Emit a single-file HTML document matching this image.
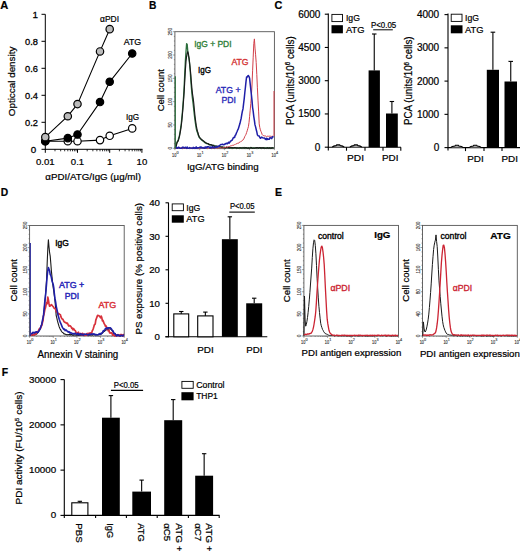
<!DOCTYPE html>
<html><head><meta charset="utf-8"><style>
html,body{margin:0;padding:0;background:#fff;}
svg{display:block;font-family:"Liberation Sans", sans-serif;}
</style></head><body>
<svg width="520" height="551" viewBox="0 0 520 551">
<rect width="520" height="551" fill="#fff"/>
<text x="0.2" y="8.8" font-size="11.6" text-anchor="start" fill="#000" font-weight="bold" textLength="8.0" lengthAdjust="spacingAndGlyphs" stroke="#000" stroke-width="0.22">A</text>
<line x1="45.3" y1="14.3" x2="45.3" y2="149.8" stroke="#000" stroke-width="1"/>
<line x1="41.5" y1="149.3" x2="45.3" y2="149.3" stroke="#000" stroke-width="1"/>
<text x="36.3" y="152.9" font-size="9.8" text-anchor="end" fill="#000" stroke="#000" stroke-width="0.3">0</text>
<line x1="41.5" y1="122.30000000000001" x2="45.3" y2="122.30000000000001" stroke="#000" stroke-width="1"/>
<text x="37.9" y="125.9" font-size="9.8" text-anchor="end" fill="#000" textLength="12.9" lengthAdjust="spacingAndGlyphs" stroke="#000" stroke-width="0.3">0.2</text>
<line x1="41.5" y1="95.30000000000001" x2="45.3" y2="95.30000000000001" stroke="#000" stroke-width="1"/>
<text x="37.9" y="98.9" font-size="9.8" text-anchor="end" fill="#000" textLength="12.9" lengthAdjust="spacingAndGlyphs" stroke="#000" stroke-width="0.3">0.4</text>
<line x1="41.5" y1="68.30000000000001" x2="45.3" y2="68.30000000000001" stroke="#000" stroke-width="1"/>
<text x="37.9" y="71.9" font-size="9.8" text-anchor="end" fill="#000" textLength="12.9" lengthAdjust="spacingAndGlyphs" stroke="#000" stroke-width="0.3">0.6</text>
<line x1="41.5" y1="41.30000000000001" x2="45.3" y2="41.30000000000001" stroke="#000" stroke-width="1"/>
<text x="37.9" y="44.90000000000001" font-size="9.8" text-anchor="end" fill="#000" textLength="12.9" lengthAdjust="spacingAndGlyphs" stroke="#000" stroke-width="0.3">0.8</text>
<line x1="41.5" y1="14.300000000000011" x2="45.3" y2="14.300000000000011" stroke="#000" stroke-width="1"/>
<text x="37.9" y="17.900000000000013" font-size="9.8" text-anchor="end" fill="#000" stroke="#000" stroke-width="0.3">1</text>
<line x1="44.8" y1="149.3" x2="142.5" y2="149.3" stroke="#000" stroke-width="1"/>
<line x1="45.3" y1="149.3" x2="45.3" y2="152.8" stroke="#000" stroke-width="1"/>
<line x1="54.993165860380195" y1="149.3" x2="54.993165860380195" y2="151.3" stroke="#000" stroke-width="0.8"/>
<line x1="60.66330440197313" y1="149.3" x2="60.66330440197313" y2="151.3" stroke="#000" stroke-width="0.8"/>
<line x1="64.68633172076039" y1="149.3" x2="64.68633172076039" y2="151.3" stroke="#000" stroke-width="0.8"/>
<line x1="67.80683413961981" y1="149.3" x2="67.80683413961981" y2="151.3" stroke="#000" stroke-width="0.8"/>
<line x1="70.35647026235333" y1="149.3" x2="70.35647026235333" y2="151.3" stroke="#000" stroke-width="0.8"/>
<line x1="72.51215688845907" y1="149.3" x2="72.51215688845907" y2="151.3" stroke="#000" stroke-width="0.8"/>
<line x1="74.37949758114058" y1="149.3" x2="74.37949758114058" y2="151.3" stroke="#000" stroke-width="0.8"/>
<line x1="76.02660880394626" y1="149.3" x2="76.02660880394626" y2="151.3" stroke="#000" stroke-width="0.8"/>
<line x1="77.5" y1="149.3" x2="77.5" y2="152.8" stroke="#000" stroke-width="1"/>
<line x1="87.19316586038019" y1="149.3" x2="87.19316586038019" y2="151.3" stroke="#000" stroke-width="0.8"/>
<line x1="92.86330440197314" y1="149.3" x2="92.86330440197314" y2="151.3" stroke="#000" stroke-width="0.8"/>
<line x1="96.8863317207604" y1="149.3" x2="96.8863317207604" y2="151.3" stroke="#000" stroke-width="0.8"/>
<line x1="100.00683413961981" y1="149.3" x2="100.00683413961981" y2="151.3" stroke="#000" stroke-width="0.8"/>
<line x1="102.55647026235333" y1="149.3" x2="102.55647026235333" y2="151.3" stroke="#000" stroke-width="0.8"/>
<line x1="104.71215688845908" y1="149.3" x2="104.71215688845908" y2="151.3" stroke="#000" stroke-width="0.8"/>
<line x1="106.57949758114059" y1="149.3" x2="106.57949758114059" y2="151.3" stroke="#000" stroke-width="0.8"/>
<line x1="108.22660880394626" y1="149.3" x2="108.22660880394626" y2="151.3" stroke="#000" stroke-width="0.8"/>
<line x1="109.7" y1="149.3" x2="109.7" y2="152.8" stroke="#000" stroke-width="1"/>
<line x1="119.3931658603802" y1="149.3" x2="119.3931658603802" y2="151.3" stroke="#000" stroke-width="0.8"/>
<line x1="125.06330440197314" y1="149.3" x2="125.06330440197314" y2="151.3" stroke="#000" stroke-width="0.8"/>
<line x1="129.0863317207604" y1="149.3" x2="129.0863317207604" y2="151.3" stroke="#000" stroke-width="0.8"/>
<line x1="132.20683413961982" y1="149.3" x2="132.20683413961982" y2="151.3" stroke="#000" stroke-width="0.8"/>
<line x1="134.75647026235333" y1="149.3" x2="134.75647026235333" y2="151.3" stroke="#000" stroke-width="0.8"/>
<line x1="136.91215688845907" y1="149.3" x2="136.91215688845907" y2="151.3" stroke="#000" stroke-width="0.8"/>
<line x1="138.7794975811406" y1="149.3" x2="138.7794975811406" y2="151.3" stroke="#000" stroke-width="0.8"/>
<line x1="140.42660880394627" y1="149.3" x2="140.42660880394627" y2="151.3" stroke="#000" stroke-width="0.8"/>
<line x1="141.9" y1="149.3" x2="141.9" y2="152.8" stroke="#000" stroke-width="1"/>
<text x="45.3" y="164.8" font-size="9.6" text-anchor="middle" fill="#000" stroke="#000" stroke-width="0.22">0.01</text>
<text x="77.5" y="164.8" font-size="9.6" text-anchor="middle" fill="#000" stroke="#000" stroke-width="0.22">0.1</text>
<text x="109.7" y="164.8" font-size="9.6" text-anchor="middle" fill="#000" stroke="#000" stroke-width="0.22">1</text>
<text x="141.9" y="164.8" font-size="9.6" text-anchor="middle" fill="#000" stroke="#000" stroke-width="0.22">10</text>
<text x="45.3" y="180.1" font-size="9.6" text-anchor="start" fill="#000" textLength="95.6" lengthAdjust="spacingAndGlyphs" stroke="#000" stroke-width="0.22">αPDI/ATG/IgG (µg/ml)</text>
<text x="14.9" y="116.2" font-size="9.8" text-anchor="start" fill="#000" textLength="69.6" lengthAdjust="spacingAndGlyphs" transform="rotate(-90 14.9 116.2)" stroke="#000" stroke-width="0.22">Opticcal density</text>
<polyline points="45.3,141.2 67.8,141.2 77.5,141.2 100.0,140.1 109.7,135.8 132.2,128.4" fill="none" stroke="#000" stroke-width="1.1" stroke-linejoin="round"/>
<polyline points="45.3,141.2 67.8,138.1 77.5,134.5 100.0,102.1 109.7,81.8 132.2,53.5" fill="none" stroke="#000" stroke-width="1.1" stroke-linejoin="round"/>
<polyline points="45.3,137.2 67.8,116.2 77.5,104.1 100.0,51.4 109.7,29.2" fill="none" stroke="#000" stroke-width="1.1" stroke-linejoin="round"/>
<circle cx="45.3" cy="141.20000000000002" r="3.7" fill="#fff" stroke="#000" stroke-width="1.2"/>
<circle cx="67.80683413961981" cy="141.20000000000002" r="3.7" fill="#fff" stroke="#000" stroke-width="1.2"/>
<circle cx="77.5" cy="141.20000000000002" r="3.7" fill="#fff" stroke="#000" stroke-width="1.2"/>
<circle cx="100.00683413961981" cy="140.12" r="3.7" fill="#fff" stroke="#000" stroke-width="1.2"/>
<circle cx="109.7" cy="135.8" r="3.7" fill="#fff" stroke="#000" stroke-width="1.2"/>
<circle cx="132.20683413961982" cy="128.375" r="3.7" fill="#fff" stroke="#000" stroke-width="1.2"/>
<circle cx="45.3" cy="141.20000000000002" r="3.7" fill="#000" stroke="#000" stroke-width="1.2"/>
<circle cx="67.80683413961981" cy="138.095" r="3.7" fill="#000" stroke="#000" stroke-width="1.2"/>
<circle cx="77.5" cy="134.45000000000002" r="3.7" fill="#000" stroke="#000" stroke-width="1.2"/>
<circle cx="100.00683413961981" cy="102.05000000000001" r="3.7" fill="#000" stroke="#000" stroke-width="1.2"/>
<circle cx="109.7" cy="81.80000000000001" r="3.7" fill="#000" stroke="#000" stroke-width="1.2"/>
<circle cx="132.20683413961982" cy="53.45000000000002" r="3.7" fill="#000" stroke="#000" stroke-width="1.2"/>
<circle cx="45.3" cy="137.15" r="3.7" fill="#bbb" stroke="#000" stroke-width="1.2"/>
<circle cx="67.80683413961981" cy="116.22500000000001" r="3.7" fill="#bbb" stroke="#000" stroke-width="1.2"/>
<circle cx="77.5" cy="104.07500000000002" r="3.7" fill="#bbb" stroke="#000" stroke-width="1.2"/>
<circle cx="100.00683413961981" cy="51.42500000000001" r="3.7" fill="#bbb" stroke="#000" stroke-width="1.2"/>
<circle cx="109.7" cy="29.150000000000006" r="3.7" fill="#bbb" stroke="#000" stroke-width="1.2"/>
<text x="100" y="21.8" font-size="8.6" text-anchor="start" fill="#000" textLength="19" lengthAdjust="spacingAndGlyphs" stroke="#000" stroke-width="0.22">αPDI</text>
<text x="123.8" y="44.9" font-size="8.6" text-anchor="start" fill="#000" textLength="17.4" lengthAdjust="spacingAndGlyphs" stroke="#000" stroke-width="0.22">ATG</text>
<text x="125.9" y="120.2" font-size="8.8" text-anchor="start" fill="#000" textLength="13.2" lengthAdjust="spacingAndGlyphs" stroke="#000" stroke-width="0.22">IgG</text>
<text x="149.0" y="8.8" font-size="11.6" text-anchor="start" fill="#000" font-weight="bold" textLength="7.4" lengthAdjust="spacingAndGlyphs" stroke="#000" stroke-width="0.22">B</text>
<rect x="174.9" y="31.7" width="99.49999999999997" height="116.60000000000001" fill="none" stroke="#555" stroke-width="0.9"/>
<line x1="173.1" y1="148.3" x2="174.9" y2="148.3" stroke="#555" stroke-width="0.6"/>
<line x1="173.9" y1="143.63600000000002" x2="174.9" y2="143.63600000000002" stroke="#555" stroke-width="0.6"/>
<line x1="173.9" y1="138.972" x2="174.9" y2="138.972" stroke="#555" stroke-width="0.6"/>
<line x1="173.9" y1="134.30800000000002" x2="174.9" y2="134.30800000000002" stroke="#555" stroke-width="0.6"/>
<line x1="173.9" y1="129.644" x2="174.9" y2="129.644" stroke="#555" stroke-width="0.6"/>
<line x1="173.1" y1="124.98000000000002" x2="174.9" y2="124.98000000000002" stroke="#555" stroke-width="0.6"/>
<line x1="173.9" y1="120.316" x2="174.9" y2="120.316" stroke="#555" stroke-width="0.6"/>
<line x1="173.9" y1="115.65200000000002" x2="174.9" y2="115.65200000000002" stroke="#555" stroke-width="0.6"/>
<line x1="173.9" y1="110.988" x2="174.9" y2="110.988" stroke="#555" stroke-width="0.6"/>
<line x1="173.9" y1="106.32400000000001" x2="174.9" y2="106.32400000000001" stroke="#555" stroke-width="0.6"/>
<line x1="173.1" y1="101.66000000000001" x2="174.9" y2="101.66000000000001" stroke="#555" stroke-width="0.6"/>
<line x1="173.9" y1="96.99600000000001" x2="174.9" y2="96.99600000000001" stroke="#555" stroke-width="0.6"/>
<line x1="173.9" y1="92.33200000000001" x2="174.9" y2="92.33200000000001" stroke="#555" stroke-width="0.6"/>
<line x1="173.9" y1="87.668" x2="174.9" y2="87.668" stroke="#555" stroke-width="0.6"/>
<line x1="173.9" y1="83.004" x2="174.9" y2="83.004" stroke="#555" stroke-width="0.6"/>
<line x1="173.1" y1="78.34" x2="174.9" y2="78.34" stroke="#555" stroke-width="0.6"/>
<line x1="173.9" y1="73.676" x2="174.9" y2="73.676" stroke="#555" stroke-width="0.6"/>
<line x1="173.9" y1="69.01200000000001" x2="174.9" y2="69.01200000000001" stroke="#555" stroke-width="0.6"/>
<line x1="173.9" y1="64.348" x2="174.9" y2="64.348" stroke="#555" stroke-width="0.6"/>
<line x1="173.9" y1="59.68400000000001" x2="174.9" y2="59.68400000000001" stroke="#555" stroke-width="0.6"/>
<line x1="173.1" y1="55.02000000000001" x2="174.9" y2="55.02000000000001" stroke="#555" stroke-width="0.6"/>
<line x1="173.9" y1="50.355999999999995" x2="174.9" y2="50.355999999999995" stroke="#555" stroke-width="0.6"/>
<line x1="173.9" y1="45.69200000000001" x2="174.9" y2="45.69200000000001" stroke="#555" stroke-width="0.6"/>
<line x1="173.9" y1="41.028000000000006" x2="174.9" y2="41.028000000000006" stroke="#555" stroke-width="0.6"/>
<line x1="173.9" y1="36.364000000000004" x2="174.9" y2="36.364000000000004" stroke="#555" stroke-width="0.6"/>
<line x1="173.1" y1="31.700000000000017" x2="174.9" y2="31.700000000000017" stroke="#555" stroke-width="0.6"/>
<text x="172.3" y="148.3" font-size="4.6" text-anchor="middle" fill="#333" transform="rotate(-90 172.3 148.3)" stroke="#333" stroke-width="0.12">0</text>
<text x="172.3" y="124.98000000000002" font-size="4.6" text-anchor="middle" fill="#333" transform="rotate(-90 172.3 124.98000000000002)" stroke="#333" stroke-width="0.12">50</text>
<text x="172.3" y="101.66000000000001" font-size="4.6" text-anchor="middle" fill="#333" transform="rotate(-90 172.3 101.66000000000001)" stroke="#333" stroke-width="0.12">100</text>
<text x="172.3" y="78.34" font-size="4.6" text-anchor="middle" fill="#333" transform="rotate(-90 172.3 78.34)" stroke="#333" stroke-width="0.12">150</text>
<text x="172.3" y="55.02000000000001" font-size="4.6" text-anchor="middle" fill="#333" transform="rotate(-90 172.3 55.02000000000001)" stroke="#333" stroke-width="0.12">200</text>
<text x="172.3" y="31.700000000000017" font-size="4.6" text-anchor="middle" fill="#333" transform="rotate(-90 172.3 31.700000000000017)" stroke="#333" stroke-width="0.12">250</text>
<line x1="174.9" y1="148.3" x2="174.9" y2="150.10000000000002" stroke="#555" stroke-width="0.6"/>
<line x1="182.38812114214153" y1="148.3" x2="182.38812114214153" y2="149.3" stroke="#555" stroke-width="0.5"/>
<line x1="186.7683912111516" y1="148.3" x2="186.7683912111516" y2="149.3" stroke="#555" stroke-width="0.5"/>
<line x1="189.87624228428308" y1="148.3" x2="189.87624228428308" y2="149.3" stroke="#555" stroke-width="0.5"/>
<line x1="192.28687885785848" y1="148.3" x2="192.28687885785848" y2="149.3" stroke="#555" stroke-width="0.5"/>
<line x1="194.25651235329315" y1="148.3" x2="194.25651235329315" y2="149.3" stroke="#555" stroke-width="0.5"/>
<line x1="195.92181374535463" y1="148.3" x2="195.92181374535463" y2="149.3" stroke="#555" stroke-width="0.5"/>
<line x1="197.3643634264246" y1="148.3" x2="197.3643634264246" y2="149.3" stroke="#555" stroke-width="0.5"/>
<line x1="198.6367824223032" y1="148.3" x2="198.6367824223032" y2="149.3" stroke="#555" stroke-width="0.5"/>
<text x="172.1" y="156.5" font-size="5.6" text-anchor="start" fill="#333" textLength="4.3" lengthAdjust="spacingAndGlyphs" stroke="#333" stroke-width="0.15">10</text>
<text x="176.5" y="153.7" font-size="3.8" text-anchor="start" fill="#333" stroke="#333" stroke-width="0.1">0</text>
<line x1="199.775" y1="148.3" x2="199.775" y2="150.10000000000002" stroke="#555" stroke-width="0.6"/>
<line x1="207.26312114214153" y1="148.3" x2="207.26312114214153" y2="149.3" stroke="#555" stroke-width="0.5"/>
<line x1="211.6433912111516" y1="148.3" x2="211.6433912111516" y2="149.3" stroke="#555" stroke-width="0.5"/>
<line x1="214.75124228428308" y1="148.3" x2="214.75124228428308" y2="149.3" stroke="#555" stroke-width="0.5"/>
<line x1="217.16187885785848" y1="148.3" x2="217.16187885785848" y2="149.3" stroke="#555" stroke-width="0.5"/>
<line x1="219.13151235329315" y1="148.3" x2="219.13151235329315" y2="149.3" stroke="#555" stroke-width="0.5"/>
<line x1="220.79681374535463" y1="148.3" x2="220.79681374535463" y2="149.3" stroke="#555" stroke-width="0.5"/>
<line x1="222.2393634264246" y1="148.3" x2="222.2393634264246" y2="149.3" stroke="#555" stroke-width="0.5"/>
<line x1="223.5117824223032" y1="148.3" x2="223.5117824223032" y2="149.3" stroke="#555" stroke-width="0.5"/>
<text x="196.975" y="156.5" font-size="5.6" text-anchor="start" fill="#333" textLength="4.3" lengthAdjust="spacingAndGlyphs" stroke="#333" stroke-width="0.15">10</text>
<text x="201.375" y="153.7" font-size="3.8" text-anchor="start" fill="#333" stroke="#333" stroke-width="0.1">1</text>
<line x1="224.64999999999998" y1="148.3" x2="224.64999999999998" y2="150.10000000000002" stroke="#555" stroke-width="0.6"/>
<line x1="232.1381211421415" y1="148.3" x2="232.1381211421415" y2="149.3" stroke="#555" stroke-width="0.5"/>
<line x1="236.51839121115157" y1="148.3" x2="236.51839121115157" y2="149.3" stroke="#555" stroke-width="0.5"/>
<line x1="239.62624228428302" y1="148.3" x2="239.62624228428302" y2="149.3" stroke="#555" stroke-width="0.5"/>
<line x1="242.03687885785843" y1="148.3" x2="242.03687885785843" y2="149.3" stroke="#555" stroke-width="0.5"/>
<line x1="244.00651235329312" y1="148.3" x2="244.00651235329312" y2="149.3" stroke="#555" stroke-width="0.5"/>
<line x1="245.6718137453546" y1="148.3" x2="245.6718137453546" y2="149.3" stroke="#555" stroke-width="0.5"/>
<line x1="247.11436342642457" y1="148.3" x2="247.11436342642457" y2="149.3" stroke="#555" stroke-width="0.5"/>
<line x1="248.38678242230318" y1="148.3" x2="248.38678242230318" y2="149.3" stroke="#555" stroke-width="0.5"/>
<text x="221.84999999999997" y="156.5" font-size="5.6" text-anchor="start" fill="#333" textLength="4.3" lengthAdjust="spacingAndGlyphs" stroke="#333" stroke-width="0.15">10</text>
<text x="226.24999999999997" y="153.7" font-size="3.8" text-anchor="start" fill="#333" stroke="#333" stroke-width="0.1">2</text>
<line x1="249.52499999999998" y1="148.3" x2="249.52499999999998" y2="150.10000000000002" stroke="#555" stroke-width="0.6"/>
<line x1="257.01312114214153" y1="148.3" x2="257.01312114214153" y2="149.3" stroke="#555" stroke-width="0.5"/>
<line x1="261.3933912111516" y1="148.3" x2="261.3933912111516" y2="149.3" stroke="#555" stroke-width="0.5"/>
<line x1="264.501242284283" y1="148.3" x2="264.501242284283" y2="149.3" stroke="#555" stroke-width="0.5"/>
<line x1="266.9118788578584" y1="148.3" x2="266.9118788578584" y2="149.3" stroke="#555" stroke-width="0.5"/>
<line x1="268.8815123532931" y1="148.3" x2="268.8815123532931" y2="149.3" stroke="#555" stroke-width="0.5"/>
<line x1="270.5468137453546" y1="148.3" x2="270.5468137453546" y2="149.3" stroke="#555" stroke-width="0.5"/>
<line x1="271.9893634264246" y1="148.3" x2="271.9893634264246" y2="149.3" stroke="#555" stroke-width="0.5"/>
<line x1="273.26178242230316" y1="148.3" x2="273.26178242230316" y2="149.3" stroke="#555" stroke-width="0.5"/>
<text x="246.72499999999997" y="156.5" font-size="5.6" text-anchor="start" fill="#333" textLength="4.3" lengthAdjust="spacingAndGlyphs" stroke="#333" stroke-width="0.15">10</text>
<text x="251.12499999999997" y="153.7" font-size="3.8" text-anchor="start" fill="#333" stroke="#333" stroke-width="0.1">3</text>
<line x1="274.4" y1="148.3" x2="274.4" y2="150.10000000000002" stroke="#555" stroke-width="0.6"/>
<text x="271.59999999999997" y="156.5" font-size="5.6" text-anchor="start" fill="#333" textLength="4.3" lengthAdjust="spacingAndGlyphs" stroke="#333" stroke-width="0.15">10</text>
<text x="276.0" y="153.7" font-size="3.8" text-anchor="start" fill="#333" stroke="#333" stroke-width="0.1">4</text>
<text x="163.8" y="111.2" font-size="9.6" text-anchor="start" fill="#000" textLength="42" lengthAdjust="spacingAndGlyphs" transform="rotate(-90 163.8 111.2)" stroke="#000" stroke-width="0.22">Cell count</text>
<text x="186.9" y="169.7" font-size="9.9" text-anchor="start" fill="#000" textLength="71.8" lengthAdjust="spacingAndGlyphs" stroke="#000" stroke-width="0.22">IgG/ATG binding</text>
<polyline points="175.2,148.1 175.8,146.5 176.4,144.0 177.0,142.1 177.6,141.2 178.2,139.7 178.8,137.6 179.4,135.6 180.0,132.0 180.6,128.5 181.2,124.3 181.8,118.1 182.4,112.1 183.0,104.4 183.6,96.4 184.2,85.9 184.8,72.5 185.4,60.6 186.0,51.6 186.6,43.6 187.2,44.4 187.8,51.4 188.4,55.8 189.0,58.9 189.6,64.1 190.2,70.7 190.8,80.1 191.4,87.8 192.0,94.6 192.6,99.6 193.2,104.4 193.8,110.3 194.4,115.4 195.0,120.5 195.6,124.3 196.2,128.4 196.8,130.8 197.4,132.4 198.0,134.4 198.6,135.9 199.2,137.5 199.8,137.9 200.4,138.8 201.0,139.2 201.6,140.1 202.2,140.4 202.8,140.8 203.4,141.4 204.0,141.8 204.6,142.5 205.2,142.6 205.8,143.2 206.4,143.4 207.0,143.8 207.6,143.9 208.2,143.7 208.8,144.5 209.4,144.8 210.0,144.9 210.6,144.9 211.2,145.2 211.8,144.9 212.4,145.6 213.0,145.6 213.6,145.5 214.2,145.5 214.8,146.3 215.4,146.5 216.0,146.0 216.6,146.7 217.2,146.5 217.8,146.4 218.4,146.6 219.0,147.1 219.6,147.2 220.2,146.7 220.8,147.2 221.4,146.9 222.0,147.5 222.6,147.2 223.2,147.7 223.8,147.8 224.4,147.5 225.0,147.9 225.6,147.4 226.2,147.3 226.8,147.7 227.4,147.3 228.0,147.5 228.6,147.7 229.2,147.9 229.8,147.5 230.4,147.4 231.0,148.1 231.6,147.7 232.2,148.2 232.8,148.1 233.4,147.7 234.0,147.8 234.6,147.9 235.2,148.0 235.8,147.9 236.4,147.9 237.0,147.9 237.6,148.2 238.2,147.9 238.8,147.8 239.4,148.0 240.0,147.7 240.6,147.7 241.2,148.3 241.8,147.9 242.4,147.9 243.0,147.5 243.6,147.8 244.2,148.0 244.8,147.5 245.4,148.0 246.0,148.0 246.6,147.6 247.2,148.0 247.8,147.9 248.4,148.1 249.0,147.8 249.6,148.1 250.2,148.1 250.8,147.5 251.4,147.6 252.0,148.1 252.6,148.3 253.2,147.7 253.8,147.9 254.4,148.0 255.0,147.8 255.6,147.8 256.2,147.8 256.8,147.8 257.4,148.0 258.0,147.8 258.6,147.9 259.2,148.2 259.8,147.6 260.4,148.0 261.0,148.2 261.6,147.8 262.2,147.7 262.8,148.2 263.4,147.8 264.0,147.7 264.6,147.9 265.2,148.1 265.8,147.7 266.4,147.8 267.0,147.8 267.6,148.3 268.2,147.9 268.8,148.3 269.4,147.7 270.0,147.9 270.6,148.1 271.2,148.3 271.8,148.0 272.4,147.8 273.0,147.7 273.6,148.0" fill="none" stroke="#2b6e3c" stroke-width="1.3" stroke-linejoin="round"/>
<polyline points="175.2,148.1 175.8,147.1 176.4,145.3 177.0,142.8 177.6,141.7 178.2,141.1 178.8,139.1 179.4,136.9 180.0,133.7 180.6,130.3 181.2,126.2 181.8,121.2 182.4,114.8 183.0,107.8 183.6,99.8 184.2,91.2 184.8,80.1 185.4,69.6 186.0,61.4 186.6,56.3 187.2,53.1 187.8,51.6 188.4,53.8 189.0,57.5 189.6,62.5 190.2,68.6 190.8,74.6 191.4,82.6 192.0,89.4 192.6,94.6 193.2,98.4 193.8,103.5 194.4,110.0 195.0,116.1 195.6,120.8 196.2,125.2 196.8,128.3 197.4,131.2 198.0,132.7 198.6,135.3 199.2,136.5 199.8,137.6 200.4,138.4 201.0,139.1 201.6,139.5 202.2,139.7 202.8,140.7 203.4,140.7 204.0,141.3 204.6,142.0 205.2,142.3 205.8,142.6 206.4,143.3 207.0,143.4 207.6,143.5 208.2,143.7 208.8,144.4 209.4,144.3 210.0,144.8 210.6,144.6 211.2,144.7 211.8,145.1 212.4,145.5 213.0,145.2 213.6,145.9 214.2,146.2 214.8,146.2 215.4,146.4 216.0,145.9 216.6,146.5 217.2,146.8 217.8,146.3 218.4,146.6 219.0,146.7 219.6,147.0 220.2,147.0 220.8,147.1 221.4,147.4 222.0,146.9 222.6,147.0 223.2,147.1 223.8,147.2 224.4,147.2 225.0,147.9 225.6,147.9 226.2,147.3 226.8,147.6 227.4,147.5 228.0,147.6 228.6,147.6 229.2,147.9 229.8,147.9 230.4,147.7 231.0,147.6 231.6,147.7 232.2,147.5 232.8,147.9 233.4,148.0 234.0,147.7 234.6,147.5 235.2,147.6 235.8,147.7 236.4,147.9 237.0,148.1 237.6,147.8 238.2,148.1 238.8,148.0 239.4,147.8 240.0,147.8 240.6,147.9 241.2,148.0 241.8,147.8 242.4,148.0 243.0,147.9 243.6,147.7 244.2,147.9 244.8,148.1 245.4,147.6 246.0,147.8 246.6,147.8 247.2,148.2 247.8,148.3 248.4,147.8 249.0,148.2 249.6,148.2 250.2,147.7 250.8,147.9 251.4,147.6 252.0,148.2 252.6,148.1 253.2,148.2 253.8,148.2 254.4,148.1 255.0,148.1 255.6,148.0 256.2,147.6 256.8,148.0 257.4,147.6 258.0,147.7 258.6,148.2 259.2,147.6 259.8,147.6 260.4,147.6 261.0,148.3 261.6,147.7 262.2,147.6 262.8,148.2 263.4,147.7 264.0,148.2 264.6,148.1 265.2,148.2 265.8,148.3 266.4,148.0 267.0,148.2 267.6,147.6 268.2,148.2 268.8,148.0 269.4,148.2 270.0,147.7 270.6,148.2 271.2,148.3 271.8,147.6 272.4,147.9 273.0,148.0 273.6,148.3" fill="none" stroke="#1a1a1a" stroke-width="1.15" stroke-linejoin="round"/>
<polyline points="175.2,147.8 175.8,147.7 176.4,147.8 177.0,148.1 177.6,148.2 178.2,147.9 178.8,147.9 179.4,147.9 180.0,147.9 180.6,147.9 181.2,147.7 181.8,148.0 182.4,148.3 183.0,147.9 183.6,148.2 184.2,147.7 184.8,148.1 185.4,148.2 186.0,148.1 186.6,148.0 187.2,148.0 187.8,148.1 188.4,148.3 189.0,147.7 189.6,147.7 190.2,148.2 190.8,148.3 191.4,148.0 192.0,147.9 192.6,148.2 193.2,147.7 193.8,147.8 194.4,147.7 195.0,148.0 195.6,147.8 196.2,147.8 196.8,148.1 197.4,148.3 198.0,147.8 198.6,148.1 199.2,147.9 199.8,148.2 200.4,148.0 201.0,147.8 201.6,147.7 202.2,147.6 202.8,147.9 203.4,147.9 204.0,147.7 204.6,147.8 205.2,147.8 205.8,148.2 206.4,147.6 207.0,148.3 207.6,147.9 208.2,148.0 208.8,147.9 209.4,148.2 210.0,148.2 210.6,148.0 211.2,147.9 211.8,148.1 212.4,148.2 213.0,147.8 213.6,148.1 214.2,148.3 214.8,147.9 215.4,147.7 216.0,147.7 216.6,148.0 217.2,148.0 217.8,148.2 218.4,148.1 219.0,147.6 219.6,147.6 220.2,147.6 220.8,147.6 221.4,148.0 222.0,148.1 222.6,148.1 223.2,147.5 223.8,147.9 224.4,147.4 225.0,147.4 225.6,147.6 226.2,146.9 226.8,146.8 227.4,147.2 228.0,146.6 228.6,146.5 229.2,146.6 229.8,146.5 230.4,145.8 231.0,145.8 231.6,145.7 232.2,145.6 232.8,145.1 233.4,145.2 234.0,145.3 234.6,144.6 235.2,144.5 235.8,143.9 236.4,143.8 237.0,143.8 237.6,143.1 238.2,143.4 238.8,143.1 239.4,142.1 240.0,142.4 240.6,141.6 241.2,141.5 241.8,141.1 242.4,140.3 243.0,140.1 243.6,139.1 244.2,138.1 244.8,136.4 245.4,135.5 246.0,134.3 246.6,132.5 247.2,130.8 247.8,128.6 248.4,126.7 249.0,122.6 249.6,116.7 250.2,110.2 250.8,103.5 251.4,95.9 252.0,85.0 252.6,70.8 253.2,57.2 253.8,43.5 254.4,38.9 255.0,48.1 255.6,54.8 256.2,62.6 256.8,74.6 257.4,87.8 258.0,100.1 258.6,111.1 259.2,123.8 259.8,127.6 260.4,129.8 261.0,131.5 261.6,132.9 262.2,134.6 262.8,135.3 263.4,135.5 264.0,136.0 264.6,135.9 265.2,135.9 265.8,136.1 266.4,136.5 267.0,135.9 267.6,136.3 268.2,136.1 268.8,136.5 269.4,136.2 270.0,136.2 270.6,136.2 271.2,136.3 271.8,136.5 272.4,136.2 273.0,136.6 273.6,136.0" fill="none" stroke="#d2404a" stroke-width="1.0" stroke-linejoin="round"/>
<line x1="274.0" y1="91" x2="274.0" y2="136" stroke="#d2404a" stroke-width="1.0"/>
<polyline points="175.2,147.5 175.8,147.2 176.4,147.2 177.0,148.3 177.6,148.3 178.2,147.3 178.8,147.3 179.4,147.7 180.0,148.3 180.6,148.3 181.2,148.3 181.8,148.0 182.4,147.2 183.0,147.7 183.6,147.3 184.2,147.9 184.8,148.0 185.4,147.3 186.0,147.4 186.6,148.3 187.2,147.0 187.8,148.3 188.4,148.3 189.0,148.3 189.6,147.6 190.2,147.9 190.8,148.0 191.4,148.1 192.0,148.3 192.6,148.1 193.2,147.4 193.8,148.3 194.4,147.8 195.0,148.0 195.6,148.2 196.2,146.9 196.8,148.2 197.4,148.0 198.0,147.7 198.6,147.8 199.2,147.6 199.8,147.2 200.4,147.7 201.0,146.8 201.6,147.7 202.2,147.9 202.8,147.5 203.4,147.7 204.0,148.3 204.6,148.3 205.2,146.9 205.8,148.0 206.4,147.7 207.0,146.7 207.6,147.2 208.2,146.9 208.8,146.6 209.4,147.4 210.0,148.1 210.6,147.0 211.2,147.9 211.8,147.6 212.4,146.5 213.0,147.8 213.6,147.3 214.2,147.8 214.8,147.4 215.4,147.4 216.0,146.5 216.6,147.2 217.2,147.2 217.8,146.9 218.4,146.0 219.0,146.4 219.6,145.7 220.2,144.9 220.8,144.6 221.4,144.5 222.0,144.6 222.6,144.2 223.2,144.6 223.8,144.8 224.4,144.3 225.0,143.9 225.6,144.1 226.2,143.3 226.8,143.5 227.4,143.8 228.0,143.0 228.6,142.2 229.2,143.1 229.8,142.3 230.4,141.3 231.0,140.8 231.6,140.5 232.2,140.1 232.8,138.8 233.4,137.7 234.0,137.3 234.6,137.5 235.2,135.3 235.8,134.8 236.4,133.0 237.0,131.7 237.6,130.2 238.2,129.2 238.8,127.2 239.4,125.3 240.0,123.3 240.6,120.6 241.2,118.2 241.8,114.3 242.4,111.2 243.0,108.9 243.6,103.6 244.2,98.9 244.8,92.7 245.4,87.5 246.0,81.6 246.6,76.9 247.2,77.1 247.8,75.8 248.4,75.5 249.0,76.6 249.6,78.3 250.2,83.9 250.8,89.4 251.4,94.8 252.0,100.4 252.6,107.5 253.2,111.4 253.8,116.6 254.4,120.3 255.0,124.9 255.6,126.9 256.2,129.5 256.8,131.9 257.4,134.8 258.0,135.7 258.6,135.9 259.2,136.0 259.8,137.4 260.4,138.3 261.0,137.9 261.6,137.1 262.2,137.4 262.8,137.8 263.4,138.1 264.0,138.0 264.6,138.0 265.2,139.1 265.8,139.5 266.4,138.2 267.0,139.6 267.6,138.6 268.2,139.2 268.8,139.3 269.4,139.2 270.0,137.5 270.6,137.8 271.2,138.2 271.8,138.6 272.4,136.8 273.0,136.9 273.6,136.6" fill="none" stroke="#1f1fa8" stroke-width="1.5" stroke-linejoin="round"/>
<line x1="175.3" y1="76.3" x2="175.3" y2="148.3" stroke="#2b6e3c" stroke-width="1.2"/>
<text x="194.2" y="47.4" font-size="8.8" text-anchor="start" fill="#2f7f3a" textLength="37.4" lengthAdjust="spacingAndGlyphs" stroke="#2f7f3a" stroke-width="0.35">IgG + PDI</text>
<text x="198.1" y="72.9" font-size="8.8" text-anchor="start" fill="#000" textLength="13" lengthAdjust="spacingAndGlyphs" stroke="#000" stroke-width="0.35">IgG</text>
<text x="231.4" y="65.1" font-size="8.8" text-anchor="start" fill="#d43535" textLength="17.2" lengthAdjust="spacingAndGlyphs" stroke="#d43535" stroke-width="0.35">ATG</text>
<text x="215.7" y="92.5" font-size="8.8" text-anchor="start" fill="#2a2ab8" textLength="24.8" lengthAdjust="spacingAndGlyphs" stroke="#2a2ab8" stroke-width="0.35">ATG +</text>
<text x="221.4" y="102.9" font-size="8.8" text-anchor="start" fill="#2a2ab8" textLength="14.4" lengthAdjust="spacingAndGlyphs" stroke="#2a2ab8" stroke-width="0.35">PDI</text>
<text x="274.5" y="8.8" font-size="11.6" text-anchor="start" fill="#000" font-weight="bold" textLength="7.8" lengthAdjust="spacingAndGlyphs" stroke="#000" stroke-width="0.22">C</text>
<line x1="328.3" y1="13.6" x2="328.3" y2="150.39999999999998" stroke="#000" stroke-width="1.1"/>
<line x1="324.8" y1="147.2" x2="328.3" y2="147.2" stroke="#000" stroke-width="1.1"/>
<text x="320.4" y="150.7" font-size="10.0" text-anchor="end" fill="#000" stroke="#000" stroke-width="0.22">0</text>
<line x1="324.8" y1="113.94999999999999" x2="328.3" y2="113.94999999999999" stroke="#000" stroke-width="1.1"/>
<text x="320.4" y="117.44999999999999" font-size="10.0" text-anchor="end" fill="#000" stroke="#000" stroke-width="0.22">1500</text>
<line x1="324.8" y1="80.69999999999999" x2="328.3" y2="80.69999999999999" stroke="#000" stroke-width="1.1"/>
<text x="320.4" y="84.19999999999999" font-size="10.0" text-anchor="end" fill="#000" stroke="#000" stroke-width="0.22">3000</text>
<line x1="324.8" y1="47.44999999999999" x2="328.3" y2="47.44999999999999" stroke="#000" stroke-width="1.1"/>
<text x="320.4" y="50.94999999999999" font-size="10.0" text-anchor="end" fill="#000" stroke="#000" stroke-width="0.22">4500</text>
<line x1="324.8" y1="14.199999999999989" x2="328.3" y2="14.199999999999989" stroke="#000" stroke-width="1.1"/>
<text x="320.4" y="17.69999999999999" font-size="10.0" text-anchor="end" fill="#000" stroke="#000" stroke-width="0.22">6000</text>
<line x1="327.8" y1="147.2" x2="401" y2="147.2" stroke="#000" stroke-width="1.1"/>
<line x1="346.5" y1="147.2" x2="346.5" y2="150.7" stroke="#000" stroke-width="1.1"/>
<line x1="365" y1="147.2" x2="365" y2="150.7" stroke="#000" stroke-width="1.1"/>
<line x1="383" y1="147.2" x2="383" y2="150.7" stroke="#000" stroke-width="1.1"/>
<line x1="400.8" y1="147.2" x2="400.8" y2="150.7" stroke="#000" stroke-width="1.1"/>
<path d="M332.2,147.2 C333.2,146.0 334.2,145.7 336.2,145.6 L336.7,144.89999999999998 L339.7,144.89999999999998 L340.2,145.6 C342.2,145.7 343.2,146.0 344.2,147.2" fill="#aaa" stroke="#000" stroke-width="1.1"/>
<path d="M349.9,147.2 C350.9,146.0 351.9,145.7 353.85,145.6 L354.35,144.89999999999998 L357.35,144.89999999999998 L357.85,145.6 C359.8,145.7 360.8,146.0 361.8,147.2" fill="#aaa" stroke="#000" stroke-width="1.1"/>
<rect x="368.6" y="70.4" width="11.3" height="76.79999999999998" fill="#000" stroke="none" stroke-width="1"/>
<line x1="374.25" y1="70.4" x2="374.25" y2="34" stroke="#000" stroke-width="1.1"/>
<line x1="372" y1="34" x2="376.5" y2="34" stroke="#000" stroke-width="1.1"/>
<rect x="386.0" y="113.5" width="11.8" height="33.69999999999999" fill="#000" stroke="none" stroke-width="1"/>
<line x1="391.9" y1="113.5" x2="391.9" y2="101.5" stroke="#000" stroke-width="1.1"/>
<line x1="389.7" y1="101.5" x2="394.1" y2="101.5" stroke="#000" stroke-width="1.1"/>
<text x="347" y="160.8" font-size="9.6" text-anchor="start" fill="#000" textLength="17" lengthAdjust="spacingAndGlyphs" stroke="#000" stroke-width="0.22">PDI</text>
<text x="382" y="160.8" font-size="9.6" text-anchor="start" fill="#000" textLength="16.5" lengthAdjust="spacingAndGlyphs" stroke="#000" stroke-width="0.22">PDI</text>
<text x="293.8" y="124.9" font-size="10.0" text-anchor="start" fill="#000" textLength="88.6" lengthAdjust="spacingAndGlyphs" transform="rotate(-90 293.8 124.9)" stroke="#000" stroke-width="0.22">PCA (units/10<tspan font-size="6.5" dy="-3.8">6</tspan><tspan dy="3.8"> cells)</tspan></text>
<rect x="331.9" y="14.4" width="10.6" height="7.2" fill="#fff" stroke="#000" stroke-width="0.9"/>
<rect x="331.5" y="25.2" width="11.4" height="8.1" fill="#000" stroke="none" stroke-width="1"/>
<text x="345.9" y="21.3" font-size="9.4" text-anchor="start" fill="#000" textLength="14" lengthAdjust="spacingAndGlyphs" stroke="#000" stroke-width="0.22">IgG</text>
<text x="345.9" y="32.6" font-size="9.4" text-anchor="start" fill="#000" textLength="18.5" lengthAdjust="spacingAndGlyphs" stroke="#000" stroke-width="0.22">ATG</text>
<text x="371.0" y="27.6" font-size="8.6" text-anchor="start" fill="#000" textLength="25.2" lengthAdjust="spacingAndGlyphs" stroke="#000" stroke-width="0.22">P&lt;0.05</text>
<line x1="373.2" y1="29.8" x2="392.8" y2="29.8" stroke="#000" stroke-width="1.0"/>
<line x1="448.0" y1="13.6" x2="448.0" y2="150.6" stroke="#000" stroke-width="1.1"/>
<line x1="444.5" y1="147.6" x2="448.0" y2="147.6" stroke="#000" stroke-width="1.1"/>
<text x="439.2" y="151.1" font-size="10.0" text-anchor="end" fill="#000" stroke="#000" stroke-width="0.22">0</text>
<line x1="444.5" y1="114.35" x2="448.0" y2="114.35" stroke="#000" stroke-width="1.1"/>
<text x="439.2" y="117.85" font-size="10.0" text-anchor="end" fill="#000" stroke="#000" stroke-width="0.22">1000</text>
<line x1="444.5" y1="81.1" x2="448.0" y2="81.1" stroke="#000" stroke-width="1.1"/>
<text x="439.2" y="84.6" font-size="10.0" text-anchor="end" fill="#000" stroke="#000" stroke-width="0.22">2000</text>
<line x1="444.5" y1="47.849999999999994" x2="448.0" y2="47.849999999999994" stroke="#000" stroke-width="1.1"/>
<text x="439.2" y="51.349999999999994" font-size="10.0" text-anchor="end" fill="#000" stroke="#000" stroke-width="0.22">3000</text>
<line x1="444.5" y1="14.599999999999994" x2="448.0" y2="14.599999999999994" stroke="#000" stroke-width="1.1"/>
<text x="439.2" y="18.099999999999994" font-size="10.0" text-anchor="end" fill="#000" stroke="#000" stroke-width="0.22">4000</text>
<line x1="447.5" y1="147.6" x2="520" y2="147.6" stroke="#000" stroke-width="1.1"/>
<line x1="465.5" y1="147.6" x2="465.5" y2="151.1" stroke="#000" stroke-width="1.1"/>
<line x1="484" y1="147.6" x2="484" y2="151.1" stroke="#000" stroke-width="1.1"/>
<line x1="502" y1="147.6" x2="502" y2="151.1" stroke="#000" stroke-width="1.1"/>
<path d="M450.6,147.6 C451.6,146.4 452.6,146.1 454.9,146.0 L455.4,145.29999999999998 L458.4,145.29999999999998 L458.9,146.0 C461.2,146.1 462.2,146.4 463.2,147.6" fill="#aaa" stroke="#000" stroke-width="1.1"/>
<path d="M469.2,147.6 C470.2,146.4 471.2,146.1 473.25,146.0 L473.75,145.29999999999998 L476.75,145.29999999999998 L477.25,146.0 C479.3,146.1 480.3,146.4 481.3,147.6" fill="#aaa" stroke="#000" stroke-width="1.1"/>
<rect x="486.8" y="69.8" width="12.2" height="77.8" fill="#000" stroke="none" stroke-width="1"/>
<line x1="492.9" y1="69.8" x2="492.9" y2="32.2" stroke="#000" stroke-width="1.1"/>
<line x1="490.6" y1="32.2" x2="495.2" y2="32.2" stroke="#000" stroke-width="1.1"/>
<rect x="504.5" y="81.5" width="12.5" height="66.1" fill="#000" stroke="none" stroke-width="1"/>
<line x1="510.75" y1="81.5" x2="510.75" y2="61.4" stroke="#000" stroke-width="1.1"/>
<line x1="508.5" y1="61.4" x2="513" y2="61.4" stroke="#000" stroke-width="1.1"/>
<text x="467.2" y="161.5" font-size="9.6" text-anchor="start" fill="#000" textLength="16.5" lengthAdjust="spacingAndGlyphs" stroke="#000" stroke-width="0.22">PDI</text>
<text x="501.5" y="161.5" font-size="9.6" text-anchor="start" fill="#000" textLength="16.5" lengthAdjust="spacingAndGlyphs" stroke="#000" stroke-width="0.22">PDI</text>
<text x="412.4" y="125.0" font-size="10.0" text-anchor="start" fill="#000" textLength="88.6" lengthAdjust="spacingAndGlyphs" transform="rotate(-90 412.4 125.0)" stroke="#000" stroke-width="0.22">PCA (units/10<tspan font-size="6.5" dy="-3.8">6</tspan><tspan dy="3.8"> cells)</tspan></text>
<rect x="451.2" y="14.2" width="10.8" height="7.2" fill="#fff" stroke="#000" stroke-width="0.9"/>
<rect x="450.8" y="25.3" width="11.7" height="8.0" fill="#000" stroke="none" stroke-width="1"/>
<text x="465" y="21.3" font-size="9.4" text-anchor="start" fill="#000" textLength="14" lengthAdjust="spacingAndGlyphs" stroke="#000" stroke-width="0.22">IgG</text>
<text x="465" y="32.6" font-size="9.4" text-anchor="start" fill="#000" textLength="18.5" lengthAdjust="spacingAndGlyphs" stroke="#000" stroke-width="0.22">ATG</text>
<text x="0.8" y="195.6" font-size="11.6" text-anchor="start" fill="#000" font-weight="bold" textLength="7.4" lengthAdjust="spacingAndGlyphs" stroke="#000" stroke-width="0.22">D</text>
<rect x="29.6" y="225.5" width="94.6" height="110.5" fill="none" stroke="#555" stroke-width="0.9"/>
<line x1="27.8" y1="336.0" x2="29.6" y2="336.0" stroke="#555" stroke-width="0.6"/>
<line x1="28.6" y1="331.58" x2="29.6" y2="331.58" stroke="#555" stroke-width="0.6"/>
<line x1="28.6" y1="327.16" x2="29.6" y2="327.16" stroke="#555" stroke-width="0.6"/>
<line x1="28.6" y1="322.74" x2="29.6" y2="322.74" stroke="#555" stroke-width="0.6"/>
<line x1="28.6" y1="318.32" x2="29.6" y2="318.32" stroke="#555" stroke-width="0.6"/>
<line x1="27.8" y1="313.9" x2="29.6" y2="313.9" stroke="#555" stroke-width="0.6"/>
<line x1="28.6" y1="309.48" x2="29.6" y2="309.48" stroke="#555" stroke-width="0.6"/>
<line x1="28.6" y1="305.06" x2="29.6" y2="305.06" stroke="#555" stroke-width="0.6"/>
<line x1="28.6" y1="300.64" x2="29.6" y2="300.64" stroke="#555" stroke-width="0.6"/>
<line x1="28.6" y1="296.22" x2="29.6" y2="296.22" stroke="#555" stroke-width="0.6"/>
<line x1="27.8" y1="291.8" x2="29.6" y2="291.8" stroke="#555" stroke-width="0.6"/>
<line x1="28.6" y1="287.38" x2="29.6" y2="287.38" stroke="#555" stroke-width="0.6"/>
<line x1="28.6" y1="282.96" x2="29.6" y2="282.96" stroke="#555" stroke-width="0.6"/>
<line x1="28.6" y1="278.54" x2="29.6" y2="278.54" stroke="#555" stroke-width="0.6"/>
<line x1="28.6" y1="274.12" x2="29.6" y2="274.12" stroke="#555" stroke-width="0.6"/>
<line x1="27.8" y1="269.7" x2="29.6" y2="269.7" stroke="#555" stroke-width="0.6"/>
<line x1="28.6" y1="265.28" x2="29.6" y2="265.28" stroke="#555" stroke-width="0.6"/>
<line x1="28.6" y1="260.86" x2="29.6" y2="260.86" stroke="#555" stroke-width="0.6"/>
<line x1="28.6" y1="256.44" x2="29.6" y2="256.44" stroke="#555" stroke-width="0.6"/>
<line x1="28.6" y1="252.01999999999998" x2="29.6" y2="252.01999999999998" stroke="#555" stroke-width="0.6"/>
<line x1="27.8" y1="247.6" x2="29.6" y2="247.6" stroke="#555" stroke-width="0.6"/>
<line x1="28.6" y1="243.18" x2="29.6" y2="243.18" stroke="#555" stroke-width="0.6"/>
<line x1="28.6" y1="238.76" x2="29.6" y2="238.76" stroke="#555" stroke-width="0.6"/>
<line x1="28.6" y1="234.34" x2="29.6" y2="234.34" stroke="#555" stroke-width="0.6"/>
<line x1="28.6" y1="229.92000000000002" x2="29.6" y2="229.92000000000002" stroke="#555" stroke-width="0.6"/>
<line x1="27.8" y1="225.5" x2="29.6" y2="225.5" stroke="#555" stroke-width="0.6"/>
<text x="27.0" y="336.0" font-size="4.6" text-anchor="middle" fill="#333" transform="rotate(-90 27.0 336.0)" stroke="#333" stroke-width="0.12">0</text>
<text x="27.0" y="313.9" font-size="4.6" text-anchor="middle" fill="#333" transform="rotate(-90 27.0 313.9)" stroke="#333" stroke-width="0.12">50</text>
<text x="27.0" y="291.8" font-size="4.6" text-anchor="middle" fill="#333" transform="rotate(-90 27.0 291.8)" stroke="#333" stroke-width="0.12">100</text>
<text x="27.0" y="269.7" font-size="4.6" text-anchor="middle" fill="#333" transform="rotate(-90 27.0 269.7)" stroke="#333" stroke-width="0.12">150</text>
<text x="27.0" y="247.6" font-size="4.6" text-anchor="middle" fill="#333" transform="rotate(-90 27.0 247.6)" stroke="#333" stroke-width="0.12">200</text>
<text x="27.0" y="225.5" font-size="4.6" text-anchor="middle" fill="#333" transform="rotate(-90 27.0 225.5)" stroke="#333" stroke-width="0.12">250</text>
<line x1="29.6" y1="336.0" x2="29.6" y2="337.8" stroke="#555" stroke-width="0.6"/>
<line x1="36.719359397453154" y1="336.0" x2="36.719359397453154" y2="337.0" stroke="#555" stroke-width="0.5"/>
<line x1="40.88391767412001" y1="336.0" x2="40.88391767412001" y2="337.0" stroke="#555" stroke-width="0.5"/>
<line x1="43.83871879490631" y1="336.0" x2="43.83871879490631" y2="337.0" stroke="#555" stroke-width="0.5"/>
<line x1="46.13064060254685" y1="336.0" x2="46.13064060254685" y2="337.0" stroke="#555" stroke-width="0.5"/>
<line x1="48.00327707157317" y1="336.0" x2="48.00327707157317" y2="337.0" stroke="#555" stroke-width="0.5"/>
<line x1="49.58656864633717" y1="336.0" x2="49.58656864633717" y2="337.0" stroke="#555" stroke-width="0.5"/>
<line x1="50.958078192359466" y1="336.0" x2="50.958078192359466" y2="337.0" stroke="#555" stroke-width="0.5"/>
<line x1="52.16783534824003" y1="336.0" x2="52.16783534824003" y2="337.0" stroke="#555" stroke-width="0.5"/>
<text x="26.8" y="344.2" font-size="5.6" text-anchor="start" fill="#333" textLength="4.3" lengthAdjust="spacingAndGlyphs" stroke="#333" stroke-width="0.15">10</text>
<text x="31.200000000000003" y="341.4" font-size="3.8" text-anchor="start" fill="#333" stroke="#333" stroke-width="0.1">0</text>
<line x1="53.25" y1="336.0" x2="53.25" y2="337.8" stroke="#555" stroke-width="0.6"/>
<line x1="60.36935939745315" y1="336.0" x2="60.36935939745315" y2="337.0" stroke="#555" stroke-width="0.5"/>
<line x1="64.53391767412002" y1="336.0" x2="64.53391767412002" y2="337.0" stroke="#555" stroke-width="0.5"/>
<line x1="67.4887187949063" y1="336.0" x2="67.4887187949063" y2="337.0" stroke="#555" stroke-width="0.5"/>
<line x1="69.78064060254684" y1="336.0" x2="69.78064060254684" y2="337.0" stroke="#555" stroke-width="0.5"/>
<line x1="71.65327707157317" y1="336.0" x2="71.65327707157317" y2="337.0" stroke="#555" stroke-width="0.5"/>
<line x1="73.23656864633718" y1="336.0" x2="73.23656864633718" y2="337.0" stroke="#555" stroke-width="0.5"/>
<line x1="74.60807819235947" y1="336.0" x2="74.60807819235947" y2="337.0" stroke="#555" stroke-width="0.5"/>
<line x1="75.81783534824004" y1="336.0" x2="75.81783534824004" y2="337.0" stroke="#555" stroke-width="0.5"/>
<text x="50.45" y="344.2" font-size="5.6" text-anchor="start" fill="#333" textLength="4.3" lengthAdjust="spacingAndGlyphs" stroke="#333" stroke-width="0.15">10</text>
<text x="54.85" y="341.4" font-size="3.8" text-anchor="start" fill="#333" stroke="#333" stroke-width="0.1">1</text>
<line x1="76.9" y1="336.0" x2="76.9" y2="337.8" stroke="#555" stroke-width="0.6"/>
<line x1="84.01935939745316" y1="336.0" x2="84.01935939745316" y2="337.0" stroke="#555" stroke-width="0.5"/>
<line x1="88.18391767412002" y1="336.0" x2="88.18391767412002" y2="337.0" stroke="#555" stroke-width="0.5"/>
<line x1="91.13871879490631" y1="336.0" x2="91.13871879490631" y2="337.0" stroke="#555" stroke-width="0.5"/>
<line x1="93.43064060254684" y1="336.0" x2="93.43064060254684" y2="337.0" stroke="#555" stroke-width="0.5"/>
<line x1="95.30327707157318" y1="336.0" x2="95.30327707157318" y2="337.0" stroke="#555" stroke-width="0.5"/>
<line x1="96.88656864633718" y1="336.0" x2="96.88656864633718" y2="337.0" stroke="#555" stroke-width="0.5"/>
<line x1="98.25807819235948" y1="336.0" x2="98.25807819235948" y2="337.0" stroke="#555" stroke-width="0.5"/>
<line x1="99.46783534824004" y1="336.0" x2="99.46783534824004" y2="337.0" stroke="#555" stroke-width="0.5"/>
<text x="74.10000000000001" y="344.2" font-size="5.6" text-anchor="start" fill="#333" textLength="4.3" lengthAdjust="spacingAndGlyphs" stroke="#333" stroke-width="0.15">10</text>
<text x="78.5" y="341.4" font-size="3.8" text-anchor="start" fill="#333" stroke="#333" stroke-width="0.1">2</text>
<line x1="100.54999999999998" y1="336.0" x2="100.54999999999998" y2="337.8" stroke="#555" stroke-width="0.6"/>
<line x1="107.66935939745314" y1="336.0" x2="107.66935939745314" y2="337.0" stroke="#555" stroke-width="0.5"/>
<line x1="111.83391767412" y1="336.0" x2="111.83391767412" y2="337.0" stroke="#555" stroke-width="0.5"/>
<line x1="114.78871879490629" y1="336.0" x2="114.78871879490629" y2="337.0" stroke="#555" stroke-width="0.5"/>
<line x1="117.08064060254682" y1="336.0" x2="117.08064060254682" y2="337.0" stroke="#555" stroke-width="0.5"/>
<line x1="118.95327707157315" y1="336.0" x2="118.95327707157315" y2="337.0" stroke="#555" stroke-width="0.5"/>
<line x1="120.53656864633716" y1="336.0" x2="120.53656864633716" y2="337.0" stroke="#555" stroke-width="0.5"/>
<line x1="121.90807819235945" y1="336.0" x2="121.90807819235945" y2="337.0" stroke="#555" stroke-width="0.5"/>
<line x1="123.11783534824002" y1="336.0" x2="123.11783534824002" y2="337.0" stroke="#555" stroke-width="0.5"/>
<text x="97.74999999999999" y="344.2" font-size="5.6" text-anchor="start" fill="#333" textLength="4.3" lengthAdjust="spacingAndGlyphs" stroke="#333" stroke-width="0.15">10</text>
<text x="102.14999999999998" y="341.4" font-size="3.8" text-anchor="start" fill="#333" stroke="#333" stroke-width="0.1">3</text>
<line x1="124.19999999999999" y1="336.0" x2="124.19999999999999" y2="337.8" stroke="#555" stroke-width="0.6"/>
<text x="121.39999999999999" y="344.2" font-size="5.6" text-anchor="start" fill="#333" textLength="4.3" lengthAdjust="spacingAndGlyphs" stroke="#333" stroke-width="0.15">10</text>
<text x="125.79999999999998" y="341.4" font-size="3.8" text-anchor="start" fill="#333" stroke="#333" stroke-width="0.1">4</text>
<text x="16.6" y="301.6" font-size="9.9" text-anchor="start" fill="#000" textLength="42.4" lengthAdjust="spacingAndGlyphs" transform="rotate(-90 16.6 301.6)" stroke="#000" stroke-width="0.22">Cell count</text>
<text x="37.5" y="358.3" font-size="10.2" text-anchor="start" fill="#000" textLength="80.8" lengthAdjust="spacingAndGlyphs" stroke="#000" stroke-width="0.22">Annexin V staining</text>
<polyline points="31.0,335.0 31.6,335.1 32.2,335.0 32.8,335.2 33.4,335.2 34.0,334.7 34.6,334.9 35.2,334.7 35.8,334.5 36.4,334.0 37.0,333.8 37.6,332.8 38.2,332.1 38.8,331.2 39.4,330.6 40.0,329.5 40.6,327.8 41.2,325.9 41.8,324.3 42.4,321.8 43.0,318.9 43.6,315.1 44.2,309.1 44.8,302.6 45.4,296.3 46.0,288.0 46.6,278.9 47.2,262.7 47.8,248.9 48.4,239.9 49.0,246.8 49.6,252.5 50.2,256.1 50.8,263.3 51.4,271.1 52.0,276.8 52.6,282.8 53.2,287.7 53.8,291.3 54.4,296.1 55.0,301.3 55.6,308.0 56.2,315.7 56.8,317.9 57.4,320.7 58.0,322.8 58.6,324.8 59.2,326.9 59.8,328.3 60.4,329.4 61.0,330.4 61.6,331.5 62.2,332.2 62.8,332.5 63.4,333.2 64.0,334.0 64.6,333.8 65.2,334.3 65.8,334.4 66.4,334.7 67.0,334.6 67.6,334.8 68.2,334.7 68.8,334.5 69.4,334.6 70.0,334.5 70.6,335.0 71.2,334.6 71.8,334.6 72.4,335.2 73.0,334.8 73.6,335.2 74.2,334.8 74.8,335.0 75.4,334.9 76.0,335.3 76.6,335.2 77.2,335.2 77.8,335.3 78.4,335.4 79.0,335.1 79.6,335.3 80.2,335.2 80.8,335.0 81.4,335.4 82.0,335.3 82.6,335.4 83.2,335.0 83.8,335.2 84.4,335.2 85.0,335.3 85.6,334.9 86.2,335.0 86.8,335.1 87.4,334.8 88.0,335.1 88.6,335.2 89.2,335.0 89.8,335.1 90.4,335.1 91.0,334.8 91.6,334.8 92.2,335.2 92.8,334.8 93.4,334.8 94.0,334.6 94.6,334.6 95.2,334.6 95.8,335.0 96.4,334.8 97.0,334.9 97.6,334.9 98.2,334.6 98.8,334.7 99.4,334.4 100.0,334.2 100.6,334.4 101.2,334.1 101.8,333.7 102.4,332.9 103.0,332.5 103.6,331.8 104.2,331.6 104.8,331.0 105.4,330.1 106.0,330.1 106.6,329.4 107.2,329.2 107.8,329.4 108.4,328.9 109.0,328.9 109.6,329.0 110.2,328.6 110.8,329.3 111.4,329.5 112.0,330.4 112.6,331.3 113.2,332.3 113.8,333.0 114.4,333.3 115.0,333.8 115.6,334.4 116.2,334.9 116.8,334.8 117.4,335.0 118.0,335.4 118.6,335.4 119.2,335.6 119.8,335.7 120.4,335.6 121.0,335.4 121.6,335.2 122.2,335.3 122.8,335.4 123.4,335.5 124.0,335.5" fill="none" stroke="#1a1a1a" stroke-width="1.1" stroke-linejoin="round"/>
<polyline points="31.0,334.2 31.6,335.2 32.2,333.9 32.8,334.3 33.4,335.1 34.0,334.9 34.6,333.6 35.2,333.3 35.8,334.3 36.4,332.1 37.0,331.8 37.6,332.0 38.2,331.3 38.8,329.8 39.4,328.7 40.0,328.3 40.6,328.2 41.2,326.1 41.8,325.6 42.4,322.9 43.0,320.5 43.6,315.5 44.2,313.0 44.8,309.8 45.4,308.0 46.0,305.2 46.6,302.7 47.2,303.7 47.8,297.2 48.4,300.0 49.0,303.7 49.6,306.2 50.2,305.9 50.8,305.4 51.4,304.6 52.0,305.3 52.6,306.0 53.2,306.6 53.8,307.7 54.4,308.4 55.0,308.4 55.6,309.3 56.2,311.4 56.8,312.2 57.4,312.3 58.0,313.7 58.6,313.8 59.2,313.8 59.8,314.4 60.4,314.8 61.0,316.9 61.6,318.2 62.2,319.1 62.8,319.0 63.4,320.3 64.0,321.7 64.6,322.2 65.2,322.4 65.8,322.6 66.4,323.3 67.0,323.0 67.6,323.5 68.2,325.0 68.8,326.1 69.4,325.6 70.0,325.8 70.6,326.2 71.2,327.0 71.8,328.3 72.4,328.1 73.0,329.8 73.6,328.6 74.2,329.5 74.8,330.4 75.4,330.8 76.0,332.3 76.6,332.8 77.2,333.5 77.8,333.2 78.4,332.2 79.0,333.6 79.6,333.8 80.2,333.8 80.8,333.5 81.4,334.6 82.0,335.1 82.6,333.4 83.2,334.7 83.8,334.1 84.4,334.4 85.0,335.2 85.6,335.3 86.2,334.6 86.8,333.6 87.4,335.1 88.0,333.3 88.6,333.6 89.2,334.4 89.8,333.1 90.4,332.8 91.0,334.0 91.6,333.4 92.2,331.0 92.8,329.9 93.4,328.3 94.0,326.1 94.6,324.4 95.2,324.1 95.8,320.1 96.4,318.5 97.0,316.9 97.6,315.4 98.2,315.5 98.8,315.6 99.4,316.1 100.0,316.9 100.6,317.8 101.2,316.0 101.8,317.6 102.4,320.8 103.0,320.5 103.6,322.1 104.2,323.8 104.8,324.5 105.4,326.1 106.0,325.9 106.6,327.2 107.2,329.6 107.8,328.6 108.4,331.0 109.0,330.2 109.6,332.8 110.2,332.7 110.8,333.2 111.4,332.7 112.0,333.1 112.6,335.2 113.2,334.3 113.8,334.6 114.4,336.0 115.0,336.0 115.6,334.6 116.2,336.0 116.8,335.6 117.4,335.2 118.0,334.6 118.6,335.3 119.2,336.0 119.8,335.0 120.4,334.7 121.0,334.7 121.6,334.7 122.2,335.2 122.8,336.0 123.4,334.6 124.0,334.8" fill="none" stroke="#d8323c" stroke-width="1.7" stroke-linejoin="round"/>
<polyline points="31.0,333.6 31.6,333.6 32.2,333.5 32.8,332.4 33.4,332.4 34.0,333.1 34.6,332.4 35.2,332.7 35.8,332.2 36.4,331.7 37.0,332.1 37.6,332.5 38.2,332.2 38.8,331.2 39.4,330.1 40.0,329.1 40.6,327.4 41.2,325.7 41.8,324.2 42.4,320.6 43.0,318.0 43.6,314.7 44.2,308.6 44.8,301.6 45.4,296.6 46.0,290.5 46.6,283.3 47.2,275.8 47.8,270.7 48.4,267.6 49.0,269.2 49.6,270.7 50.2,274.5 50.8,275.4 51.4,277.6 52.0,280.9 52.6,282.7 53.2,284.4 53.8,287.8 54.4,294.0 55.0,298.7 55.6,301.8 56.2,306.1 56.8,309.0 57.4,311.7 58.0,315.1 58.6,316.9 59.2,319.3 59.8,321.0 60.4,322.7 61.0,323.9 61.6,325.4 62.2,327.0 62.8,327.9 63.4,328.7 64.0,329.5 64.6,329.2 65.2,330.6 65.8,330.0 66.4,330.1 67.0,331.0 67.6,331.7 68.2,331.5 68.8,332.2 69.4,331.9 70.0,333.2 70.6,332.6 71.2,332.9 71.8,333.1 72.4,333.7 73.0,334.0 73.6,333.5 74.2,333.5 74.8,333.8 75.4,333.2 76.0,333.8 76.6,334.4 77.2,334.4 77.8,333.4 78.4,334.6 79.0,334.0 79.6,334.9 80.2,334.0 80.8,333.8 81.4,334.3 82.0,334.8 82.6,334.2 83.2,334.9 83.8,334.7 84.4,334.2 85.0,334.1 85.6,334.4 86.2,334.3 86.8,334.3 87.4,334.7 88.0,335.0 88.6,334.6 89.2,334.0 89.8,334.1 90.4,334.3 91.0,334.7 91.6,334.0 92.2,333.9 92.8,334.2 93.4,334.1 94.0,333.8 94.6,334.4 95.2,334.9 95.8,334.4 96.4,334.6 97.0,334.7 97.6,334.7 98.2,334.8 98.8,334.1 99.4,334.4 100.0,333.5 100.6,334.4 101.2,333.4 101.8,333.0 102.4,332.9 103.0,331.3 103.6,330.5 104.2,330.8 104.8,329.9 105.4,328.7 106.0,328.2 106.6,328.5 107.2,327.9 107.8,329.0 108.4,327.9 109.0,327.8 109.6,327.7 110.2,327.8 110.8,328.1 111.4,329.0 112.0,330.0 112.6,330.7 113.2,331.2 113.8,333.3 114.4,333.6 115.0,333.5 115.6,334.6 116.2,335.5 116.8,336.0 117.4,334.8 118.0,334.8 118.6,335.5 119.2,335.4 119.8,336.0 120.4,336.0 121.0,335.3 121.6,335.4 122.2,335.6 122.8,336.0 123.4,335.1 124.0,335.3" fill="none" stroke="#1f1fa8" stroke-width="1.6" stroke-linejoin="round"/>
<line x1="30.3" y1="243.1" x2="30.3" y2="336.0" stroke="#1a1a90" stroke-width="1.1"/>
<text x="55.2" y="245.9" font-size="9.2" text-anchor="start" fill="#000" textLength="13.6" lengthAdjust="spacingAndGlyphs" stroke="#000" stroke-width="0.45">IgG</text>
<text x="59.1" y="287.7" font-size="9.0" text-anchor="start" fill="#2a2ab8" textLength="25.2" lengthAdjust="spacingAndGlyphs" stroke="#2a2ab8" stroke-width="0.45">ATG +</text>
<text x="64.8" y="298.5" font-size="9.0" text-anchor="start" fill="#2a2ab8" textLength="14.4" lengthAdjust="spacingAndGlyphs" stroke="#2a2ab8" stroke-width="0.45">PDI</text>
<text x="98.6" y="307.5" font-size="9.0" text-anchor="start" fill="#d8323c" textLength="17.6" lengthAdjust="spacingAndGlyphs" stroke="#d8323c" stroke-width="0.45">ATG</text>
<line x1="168.5" y1="202.6" x2="168.5" y2="337.3" stroke="#000" stroke-width="1.1"/>
<line x1="165.5" y1="336.8" x2="168.5" y2="336.8" stroke="#000" stroke-width="1.1"/>
<text x="160.0" y="340.2" font-size="9.7" text-anchor="end" fill="#000" stroke="#000" stroke-width="0.22">0</text>
<line x1="165.5" y1="303.3" x2="168.5" y2="303.3" stroke="#000" stroke-width="1.1"/>
<text x="160.0" y="306.7" font-size="9.7" text-anchor="end" fill="#000" stroke="#000" stroke-width="0.22">10</text>
<line x1="165.5" y1="269.8" x2="168.5" y2="269.8" stroke="#000" stroke-width="1.1"/>
<text x="160.0" y="273.2" font-size="9.7" text-anchor="end" fill="#000" stroke="#000" stroke-width="0.22">20</text>
<line x1="165.5" y1="236.3" x2="168.5" y2="236.3" stroke="#000" stroke-width="1.1"/>
<text x="160.0" y="239.70000000000002" font-size="9.7" text-anchor="end" fill="#000" stroke="#000" stroke-width="0.22">30</text>
<line x1="165.5" y1="202.8" x2="168.5" y2="202.8" stroke="#000" stroke-width="1.1"/>
<text x="160.0" y="206.20000000000002" font-size="9.7" text-anchor="end" fill="#000" stroke="#000" stroke-width="0.22">40</text>
<line x1="165.3" y1="336.8" x2="267.3" y2="336.8" stroke="#000" stroke-width="1.1"/>
<line x1="181.25" y1="313.9" x2="181.25" y2="311.5" stroke="#000" stroke-width="1.1"/>
<line x1="179.05" y1="311.5" x2="183.45" y2="311.5" stroke="#000" stroke-width="1.1"/>
<rect x="173.8" y="313.9" width="14.899999999999977" height="22.900000000000034" fill="#fff" stroke="#000" stroke-width="1.1"/>
<line x1="205.35" y1="315.9" x2="205.35" y2="312.1" stroke="#000" stroke-width="1.1"/>
<line x1="203.15" y1="312.1" x2="207.54999999999998" y2="312.1" stroke="#000" stroke-width="1.1"/>
<rect x="197.7" y="315.9" width="15.300000000000011" height="20.900000000000034" fill="#fff" stroke="#000" stroke-width="1.1"/>
<line x1="229.85000000000002" y1="239.2" x2="229.85000000000002" y2="216.8" stroke="#000" stroke-width="1.1"/>
<line x1="227.65000000000003" y1="216.8" x2="232.05" y2="216.8" stroke="#000" stroke-width="1.1"/>
<rect x="221.9" y="239.2" width="15.900000000000006" height="97.60000000000002" fill="#000" stroke="none" stroke-width="1"/>
<line x1="254.2" y1="303.3" x2="254.2" y2="298.2" stroke="#000" stroke-width="1.1"/>
<line x1="252.0" y1="298.2" x2="256.4" y2="298.2" stroke="#000" stroke-width="1.1"/>
<rect x="246.2" y="303.3" width="16.0" height="33.5" fill="#000" stroke="none" stroke-width="1"/>
<text x="197.2" y="352.8" font-size="9.6" text-anchor="start" fill="#000" textLength="16.5" lengthAdjust="spacingAndGlyphs" stroke="#000" stroke-width="0.22">PDI</text>
<text x="246.2" y="352.8" font-size="9.6" text-anchor="start" fill="#000" textLength="16.2" lengthAdjust="spacingAndGlyphs" stroke="#000" stroke-width="0.22">PDI</text>
<text x="142.0" y="334.6" font-size="9.8" text-anchor="start" fill="#000" textLength="131.6" lengthAdjust="spacingAndGlyphs" transform="rotate(-90 142.0 334.6)" stroke="#000" stroke-width="0.22">PS exposure (% positive cells)</text>
<rect x="172.2" y="203.9" width="11.2" height="6.8" fill="#fff" stroke="#000" stroke-width="0.9"/>
<rect x="171.8" y="215.3" width="12" height="7.4" fill="#000" stroke="none" stroke-width="1"/>
<text x="186.3" y="210.6" font-size="9.4" text-anchor="start" fill="#000" textLength="14" lengthAdjust="spacingAndGlyphs" stroke="#000" stroke-width="0.22">IgG</text>
<text x="186.3" y="222.2" font-size="9.4" text-anchor="start" fill="#000" textLength="18.3" lengthAdjust="spacingAndGlyphs" stroke="#000" stroke-width="0.22">ATG</text>
<text x="229.9" y="209.4" font-size="8.6" text-anchor="start" fill="#000" textLength="24.6" lengthAdjust="spacingAndGlyphs" stroke="#000" stroke-width="0.22">P&lt;0.05</text>
<line x1="229.3" y1="212.1" x2="254.8" y2="212.1" stroke="#000" stroke-width="1.1"/>
<text x="274.9" y="195.6" font-size="11.6" text-anchor="start" fill="#000" font-weight="bold" textLength="7.0" lengthAdjust="spacingAndGlyphs" stroke="#000" stroke-width="0.22">E</text>
<rect x="303.9" y="225.4" width="94.60000000000002" height="110.6" fill="none" stroke="#555" stroke-width="0.9"/>
<line x1="302.09999999999997" y1="336.0" x2="303.9" y2="336.0" stroke="#555" stroke-width="0.6"/>
<line x1="302.9" y1="331.576" x2="303.9" y2="331.576" stroke="#555" stroke-width="0.6"/>
<line x1="302.9" y1="327.152" x2="303.9" y2="327.152" stroke="#555" stroke-width="0.6"/>
<line x1="302.9" y1="322.728" x2="303.9" y2="322.728" stroke="#555" stroke-width="0.6"/>
<line x1="302.9" y1="318.304" x2="303.9" y2="318.304" stroke="#555" stroke-width="0.6"/>
<line x1="302.09999999999997" y1="313.88" x2="303.9" y2="313.88" stroke="#555" stroke-width="0.6"/>
<line x1="302.9" y1="309.456" x2="303.9" y2="309.456" stroke="#555" stroke-width="0.6"/>
<line x1="302.9" y1="305.032" x2="303.9" y2="305.032" stroke="#555" stroke-width="0.6"/>
<line x1="302.9" y1="300.608" x2="303.9" y2="300.608" stroke="#555" stroke-width="0.6"/>
<line x1="302.9" y1="296.18399999999997" x2="303.9" y2="296.18399999999997" stroke="#555" stroke-width="0.6"/>
<line x1="302.09999999999997" y1="291.76" x2="303.9" y2="291.76" stroke="#555" stroke-width="0.6"/>
<line x1="302.9" y1="287.336" x2="303.9" y2="287.336" stroke="#555" stroke-width="0.6"/>
<line x1="302.9" y1="282.91200000000003" x2="303.9" y2="282.91200000000003" stroke="#555" stroke-width="0.6"/>
<line x1="302.9" y1="278.488" x2="303.9" y2="278.488" stroke="#555" stroke-width="0.6"/>
<line x1="302.9" y1="274.064" x2="303.9" y2="274.064" stroke="#555" stroke-width="0.6"/>
<line x1="302.09999999999997" y1="269.64" x2="303.9" y2="269.64" stroke="#555" stroke-width="0.6"/>
<line x1="302.9" y1="265.216" x2="303.9" y2="265.216" stroke="#555" stroke-width="0.6"/>
<line x1="302.9" y1="260.79200000000003" x2="303.9" y2="260.79200000000003" stroke="#555" stroke-width="0.6"/>
<line x1="302.9" y1="256.368" x2="303.9" y2="256.368" stroke="#555" stroke-width="0.6"/>
<line x1="302.9" y1="251.94400000000002" x2="303.9" y2="251.94400000000002" stroke="#555" stroke-width="0.6"/>
<line x1="302.09999999999997" y1="247.51999999999998" x2="303.9" y2="247.51999999999998" stroke="#555" stroke-width="0.6"/>
<line x1="302.9" y1="243.096" x2="303.9" y2="243.096" stroke="#555" stroke-width="0.6"/>
<line x1="302.9" y1="238.67200000000003" x2="303.9" y2="238.67200000000003" stroke="#555" stroke-width="0.6"/>
<line x1="302.9" y1="234.248" x2="303.9" y2="234.248" stroke="#555" stroke-width="0.6"/>
<line x1="302.9" y1="229.824" x2="303.9" y2="229.824" stroke="#555" stroke-width="0.6"/>
<line x1="302.09999999999997" y1="225.4" x2="303.9" y2="225.4" stroke="#555" stroke-width="0.6"/>
<text x="301.29999999999995" y="336.0" font-size="4.6" text-anchor="middle" fill="#333" transform="rotate(-90 301.29999999999995 336.0)" stroke="#333" stroke-width="0.12">0</text>
<text x="301.29999999999995" y="313.88" font-size="4.6" text-anchor="middle" fill="#333" transform="rotate(-90 301.29999999999995 313.88)" stroke="#333" stroke-width="0.12">50</text>
<text x="301.29999999999995" y="291.76" font-size="4.6" text-anchor="middle" fill="#333" transform="rotate(-90 301.29999999999995 291.76)" stroke="#333" stroke-width="0.12">100</text>
<text x="301.29999999999995" y="269.64" font-size="4.6" text-anchor="middle" fill="#333" transform="rotate(-90 301.29999999999995 269.64)" stroke="#333" stroke-width="0.12">150</text>
<text x="301.29999999999995" y="247.52" font-size="4.6" text-anchor="middle" fill="#333" transform="rotate(-90 301.29999999999995 247.52)" stroke="#333" stroke-width="0.12">200</text>
<text x="301.29999999999995" y="225.4" font-size="4.6" text-anchor="middle" fill="#333" transform="rotate(-90 301.29999999999995 225.4)" stroke="#333" stroke-width="0.12">250</text>
<line x1="303.9" y1="336.0" x2="303.9" y2="337.8" stroke="#555" stroke-width="0.6"/>
<line x1="311.0193593974531" y1="336.0" x2="311.0193593974531" y2="337.0" stroke="#555" stroke-width="0.5"/>
<line x1="315.18391767412" y1="336.0" x2="315.18391767412" y2="337.0" stroke="#555" stroke-width="0.5"/>
<line x1="318.1387187949063" y1="336.0" x2="318.1387187949063" y2="337.0" stroke="#555" stroke-width="0.5"/>
<line x1="320.4306406025468" y1="336.0" x2="320.4306406025468" y2="337.0" stroke="#555" stroke-width="0.5"/>
<line x1="322.3032770715732" y1="336.0" x2="322.3032770715732" y2="337.0" stroke="#555" stroke-width="0.5"/>
<line x1="323.88656864633714" y1="336.0" x2="323.88656864633714" y2="337.0" stroke="#555" stroke-width="0.5"/>
<line x1="325.25807819235945" y1="336.0" x2="325.25807819235945" y2="337.0" stroke="#555" stroke-width="0.5"/>
<line x1="326.46783534824" y1="336.0" x2="326.46783534824" y2="337.0" stroke="#555" stroke-width="0.5"/>
<text x="301.09999999999997" y="344.2" font-size="5.6" text-anchor="start" fill="#333" textLength="4.3" lengthAdjust="spacingAndGlyphs" stroke="#333" stroke-width="0.15">10</text>
<text x="305.5" y="341.4" font-size="3.8" text-anchor="start" fill="#333" stroke="#333" stroke-width="0.1">0</text>
<line x1="327.54999999999995" y1="336.0" x2="327.54999999999995" y2="337.8" stroke="#555" stroke-width="0.6"/>
<line x1="334.6693593974531" y1="336.0" x2="334.6693593974531" y2="337.0" stroke="#555" stroke-width="0.5"/>
<line x1="338.83391767411996" y1="336.0" x2="338.83391767411996" y2="337.0" stroke="#555" stroke-width="0.5"/>
<line x1="341.7887187949063" y1="336.0" x2="341.7887187949063" y2="337.0" stroke="#555" stroke-width="0.5"/>
<line x1="344.0806406025468" y1="336.0" x2="344.0806406025468" y2="337.0" stroke="#555" stroke-width="0.5"/>
<line x1="345.95327707157315" y1="336.0" x2="345.95327707157315" y2="337.0" stroke="#555" stroke-width="0.5"/>
<line x1="347.5365686463371" y1="336.0" x2="347.5365686463371" y2="337.0" stroke="#555" stroke-width="0.5"/>
<line x1="348.9080781923594" y1="336.0" x2="348.9080781923594" y2="337.0" stroke="#555" stroke-width="0.5"/>
<line x1="350.11783534823996" y1="336.0" x2="350.11783534823996" y2="337.0" stroke="#555" stroke-width="0.5"/>
<text x="324.74999999999994" y="344.2" font-size="5.6" text-anchor="start" fill="#333" textLength="4.3" lengthAdjust="spacingAndGlyphs" stroke="#333" stroke-width="0.15">10</text>
<text x="329.15" y="341.4" font-size="3.8" text-anchor="start" fill="#333" stroke="#333" stroke-width="0.1">1</text>
<line x1="351.2" y1="336.0" x2="351.2" y2="337.8" stroke="#555" stroke-width="0.6"/>
<line x1="358.3193593974531" y1="336.0" x2="358.3193593974531" y2="337.0" stroke="#555" stroke-width="0.5"/>
<line x1="362.48391767412" y1="336.0" x2="362.48391767412" y2="337.0" stroke="#555" stroke-width="0.5"/>
<line x1="365.4387187949063" y1="336.0" x2="365.4387187949063" y2="337.0" stroke="#555" stroke-width="0.5"/>
<line x1="367.7306406025468" y1="336.0" x2="367.7306406025468" y2="337.0" stroke="#555" stroke-width="0.5"/>
<line x1="369.6032770715732" y1="336.0" x2="369.6032770715732" y2="337.0" stroke="#555" stroke-width="0.5"/>
<line x1="371.18656864633715" y1="336.0" x2="371.18656864633715" y2="337.0" stroke="#555" stroke-width="0.5"/>
<line x1="372.55807819235946" y1="336.0" x2="372.55807819235946" y2="337.0" stroke="#555" stroke-width="0.5"/>
<line x1="373.76783534824006" y1="336.0" x2="373.76783534824006" y2="337.0" stroke="#555" stroke-width="0.5"/>
<text x="348.4" y="344.2" font-size="5.6" text-anchor="start" fill="#333" textLength="4.3" lengthAdjust="spacingAndGlyphs" stroke="#333" stroke-width="0.15">10</text>
<text x="352.8" y="341.4" font-size="3.8" text-anchor="start" fill="#333" stroke="#333" stroke-width="0.1">2</text>
<line x1="374.85" y1="336.0" x2="374.85" y2="337.8" stroke="#555" stroke-width="0.6"/>
<line x1="381.96935939745316" y1="336.0" x2="381.96935939745316" y2="337.0" stroke="#555" stroke-width="0.5"/>
<line x1="386.13391767412" y1="336.0" x2="386.13391767412" y2="337.0" stroke="#555" stroke-width="0.5"/>
<line x1="389.08871879490636" y1="336.0" x2="389.08871879490636" y2="337.0" stroke="#555" stroke-width="0.5"/>
<line x1="391.38064060254686" y1="336.0" x2="391.38064060254686" y2="337.0" stroke="#555" stroke-width="0.5"/>
<line x1="393.2532770715732" y1="336.0" x2="393.2532770715732" y2="337.0" stroke="#555" stroke-width="0.5"/>
<line x1="394.8365686463372" y1="336.0" x2="394.8365686463372" y2="337.0" stroke="#555" stroke-width="0.5"/>
<line x1="396.2080781923595" y1="336.0" x2="396.2080781923595" y2="337.0" stroke="#555" stroke-width="0.5"/>
<line x1="397.41783534824003" y1="336.0" x2="397.41783534824003" y2="337.0" stroke="#555" stroke-width="0.5"/>
<text x="372.05" y="344.2" font-size="5.6" text-anchor="start" fill="#333" textLength="4.3" lengthAdjust="spacingAndGlyphs" stroke="#333" stroke-width="0.15">10</text>
<text x="376.45000000000005" y="341.4" font-size="3.8" text-anchor="start" fill="#333" stroke="#333" stroke-width="0.1">3</text>
<line x1="398.5" y1="336.0" x2="398.5" y2="337.8" stroke="#555" stroke-width="0.6"/>
<text x="395.7" y="344.2" font-size="5.6" text-anchor="start" fill="#333" textLength="4.3" lengthAdjust="spacingAndGlyphs" stroke="#333" stroke-width="0.15">10</text>
<text x="400.1" y="341.4" font-size="3.8" text-anchor="start" fill="#333" stroke="#333" stroke-width="0.1">4</text>
<polyline points="303.9,335.8 304.5,296.1 305.1,320.0 305.7,326.2 306.3,324.5 306.9,321.6 307.5,317.5 308.1,312.6 308.7,306.6 309.3,299.9 309.9,292.5 310.5,284.0 311.1,276.0 311.7,268.1 312.3,257.4 312.9,248.8 313.5,242.8 314.1,239.8 314.7,240.5 315.3,245.4 315.9,253.7 316.5,265.5 317.1,278.2 317.7,288.2 318.3,297.9 318.9,306.3 319.5,312.5 320.1,318.2 320.7,323.3 321.3,325.8 321.9,327.6 322.5,329.4 323.1,330.3 323.7,331.7 324.3,332.6 324.9,332.8 325.5,333.8 326.1,333.9 326.7,334.2 327.3,334.4 327.9,334.6 328.5,335.1 329.1,335.2 329.7,335.5 330.3,335.6 330.9,335.2 331.5,335.5 332.1,335.5 332.7,335.4 333.3,335.5 333.9,335.5 334.5,335.8 335.1,335.6 335.7,335.5 336.3,335.5 336.9,335.7 337.5,335.8 338.1,335.6 338.7,335.8 339.3,335.6 339.9,335.8 340.5,335.8 341.1,335.5 341.7,335.9 342.3,335.7 342.9,335.8 343.5,335.8 344.1,335.8 344.7,335.7 345.3,335.5 345.9,335.9 346.5,336.0 347.1,335.8 347.7,335.8 348.3,335.6 348.9,336.0 349.5,335.9 350.1,335.6 350.7,336.0 351.3,336.0 351.9,335.7 352.5,336.0 353.1,335.8 353.7,335.6 354.3,335.9 354.9,335.7 355.5,335.9 356.1,335.8 356.7,335.5 357.3,335.8 357.9,336.0 358.5,335.8 359.1,335.8 359.7,336.0 360.3,335.8 360.9,335.8 361.5,335.8 362.1,336.0 362.7,335.6 363.3,335.5 363.9,335.9 364.5,335.8 365.1,335.7 365.7,336.0 366.3,336.0 366.9,335.8 367.5,336.0 368.1,336.0 368.7,335.9 369.3,335.7 369.9,335.5 370.5,335.9 371.1,335.9 371.7,335.7 372.3,335.8 372.9,335.8 373.5,335.6 374.1,335.9 374.7,335.8 375.3,335.7 375.9,335.6 376.5,335.8 377.1,335.7 377.7,335.9 378.3,335.6 378.9,335.7 379.5,335.6 380.1,335.7 380.7,335.8 381.3,335.6 381.9,335.5 382.5,335.8 383.1,335.6 383.7,335.8 384.3,335.6 384.9,335.6 385.5,335.8 386.1,336.0 386.7,336.0 387.3,335.8 387.9,335.7 388.5,335.5 389.1,335.7 389.7,335.7 390.3,336.0 390.9,335.6 391.5,336.0 392.1,335.8 392.7,335.8 393.3,335.7 393.9,336.0 394.5,335.6 395.1,335.8 395.7,335.8 396.3,335.6 396.9,335.6 397.5,336.0" fill="none" stroke="#1a1a1a" stroke-width="1.0" stroke-linejoin="round"/>
<polyline points="303.8,334.7 304.4,334.6 305.0,334.7 305.6,334.2 306.2,334.5 306.8,334.5 307.4,334.0 308.0,334.0 308.6,334.1 309.2,333.7 309.8,333.8 310.4,333.3 311.0,333.3 311.6,332.4 312.2,331.6 312.8,329.9 313.4,327.6 314.0,324.5 314.6,320.7 315.2,316.7 315.8,311.0 316.4,302.4 317.0,292.4 317.6,283.4 318.2,275.3 318.8,267.5 319.4,260.5 320.0,255.1 320.6,250.7 321.2,247.0 321.8,246.1 322.4,247.5 323.0,251.8 323.6,257.2 324.2,264.4 324.8,275.8 325.4,288.2 326.0,299.5 326.6,310.6 327.2,319.2 327.8,323.7 328.4,327.2 329.0,330.5 329.6,332.1 330.2,333.1 330.8,334.0 331.4,334.2 332.0,334.8 332.6,335.2 333.2,335.3 333.8,335.1 334.4,335.2 335.0,335.5 335.6,335.7 336.2,335.2 336.8,335.1 337.4,335.2 338.0,335.6 338.6,335.3 339.2,335.4 339.8,335.7 340.4,335.5 341.0,335.3 341.6,335.5 342.2,335.1 342.8,335.3 343.4,335.5 344.0,335.2 344.6,335.1 345.2,335.4 345.8,335.3 346.4,335.7 347.0,335.2 347.6,335.6 348.2,335.4 348.8,335.6 349.4,335.4 350.0,335.5 350.6,335.3 351.2,335.3 351.8,335.4 352.4,335.6 353.0,335.3 353.6,335.3 354.2,335.4 354.8,335.2 355.4,335.3 356.0,335.5 356.6,335.5 357.2,335.5 357.8,335.3 358.4,335.1 359.0,335.1 359.6,335.3 360.2,335.2 360.8,335.5 361.4,335.3 362.0,335.6 362.6,335.5 363.2,335.5 363.8,335.6 364.4,335.4 365.0,335.4 365.6,335.3 366.2,335.2 366.8,335.6 367.4,335.4 368.0,335.2 368.6,335.7 369.2,335.5 369.8,335.5 370.4,335.4 371.0,335.2 371.6,335.7 372.2,335.2 372.8,335.3 373.4,335.7 374.0,335.2 374.6,335.4 375.2,335.4 375.8,335.3 376.4,335.7 377.0,335.4 377.6,335.1 378.2,335.4 378.8,335.1 379.4,335.5 380.0,335.6 380.6,335.7 381.2,335.1 381.8,335.5 382.4,335.3 383.0,335.4 383.6,335.3 384.2,335.3 384.8,335.2 385.4,335.5 386.0,335.2 386.6,335.7 387.2,335.1 387.8,335.7 388.4,335.2 389.0,335.2 389.6,335.6 390.2,335.4 390.8,335.6 391.4,335.4 392.0,335.5 392.6,335.2 393.2,335.5 393.8,335.4 394.4,335.7 395.0,335.1 395.6,335.1 396.2,335.5 396.8,335.7 397.4,335.4 398.0,335.5" fill="none" stroke="#cc2433" stroke-width="1.3" stroke-linejoin="round"/>
<text x="317.9" y="239.0" font-size="8.9" text-anchor="start" fill="#000" textLength="25.8" lengthAdjust="spacingAndGlyphs" stroke="#000" stroke-width="0.35">control</text>
<text x="374.2" y="238.3" font-size="9.4" text-anchor="start" fill="#000" font-weight="bold" textLength="16.2" lengthAdjust="spacingAndGlyphs" stroke="#000" stroke-width="0.22">IgG</text>
<text x="330.4" y="290.8" font-size="9.0" text-anchor="start" fill="#cc2433" textLength="19.8" lengthAdjust="spacingAndGlyphs" stroke="#cc2433" stroke-width="0.35">αPDI</text>
<text x="290.4" y="302.2" font-size="9.6" text-anchor="start" fill="#000" textLength="43" lengthAdjust="spacingAndGlyphs" transform="rotate(-90 290.4 302.2)" stroke="#000" stroke-width="0.22">Cell count</text>
<text x="301.5" y="356.4" font-size="9.6" text-anchor="start" fill="#000" textLength="99.8" lengthAdjust="spacingAndGlyphs" stroke="#000" stroke-width="0.22">PDI antigen expression</text>
<rect x="422.5" y="225.4" width="94.79999999999995" height="110.6" fill="none" stroke="#555" stroke-width="0.9"/>
<line x1="420.7" y1="336.0" x2="422.5" y2="336.0" stroke="#555" stroke-width="0.6"/>
<line x1="421.5" y1="331.576" x2="422.5" y2="331.576" stroke="#555" stroke-width="0.6"/>
<line x1="421.5" y1="327.152" x2="422.5" y2="327.152" stroke="#555" stroke-width="0.6"/>
<line x1="421.5" y1="322.728" x2="422.5" y2="322.728" stroke="#555" stroke-width="0.6"/>
<line x1="421.5" y1="318.304" x2="422.5" y2="318.304" stroke="#555" stroke-width="0.6"/>
<line x1="420.7" y1="313.88" x2="422.5" y2="313.88" stroke="#555" stroke-width="0.6"/>
<line x1="421.5" y1="309.456" x2="422.5" y2="309.456" stroke="#555" stroke-width="0.6"/>
<line x1="421.5" y1="305.032" x2="422.5" y2="305.032" stroke="#555" stroke-width="0.6"/>
<line x1="421.5" y1="300.608" x2="422.5" y2="300.608" stroke="#555" stroke-width="0.6"/>
<line x1="421.5" y1="296.18399999999997" x2="422.5" y2="296.18399999999997" stroke="#555" stroke-width="0.6"/>
<line x1="420.7" y1="291.76" x2="422.5" y2="291.76" stroke="#555" stroke-width="0.6"/>
<line x1="421.5" y1="287.336" x2="422.5" y2="287.336" stroke="#555" stroke-width="0.6"/>
<line x1="421.5" y1="282.91200000000003" x2="422.5" y2="282.91200000000003" stroke="#555" stroke-width="0.6"/>
<line x1="421.5" y1="278.488" x2="422.5" y2="278.488" stroke="#555" stroke-width="0.6"/>
<line x1="421.5" y1="274.064" x2="422.5" y2="274.064" stroke="#555" stroke-width="0.6"/>
<line x1="420.7" y1="269.64" x2="422.5" y2="269.64" stroke="#555" stroke-width="0.6"/>
<line x1="421.5" y1="265.216" x2="422.5" y2="265.216" stroke="#555" stroke-width="0.6"/>
<line x1="421.5" y1="260.79200000000003" x2="422.5" y2="260.79200000000003" stroke="#555" stroke-width="0.6"/>
<line x1="421.5" y1="256.368" x2="422.5" y2="256.368" stroke="#555" stroke-width="0.6"/>
<line x1="421.5" y1="251.94400000000002" x2="422.5" y2="251.94400000000002" stroke="#555" stroke-width="0.6"/>
<line x1="420.7" y1="247.51999999999998" x2="422.5" y2="247.51999999999998" stroke="#555" stroke-width="0.6"/>
<line x1="421.5" y1="243.096" x2="422.5" y2="243.096" stroke="#555" stroke-width="0.6"/>
<line x1="421.5" y1="238.67200000000003" x2="422.5" y2="238.67200000000003" stroke="#555" stroke-width="0.6"/>
<line x1="421.5" y1="234.248" x2="422.5" y2="234.248" stroke="#555" stroke-width="0.6"/>
<line x1="421.5" y1="229.824" x2="422.5" y2="229.824" stroke="#555" stroke-width="0.6"/>
<line x1="420.7" y1="225.4" x2="422.5" y2="225.4" stroke="#555" stroke-width="0.6"/>
<text x="419.9" y="336.0" font-size="4.6" text-anchor="middle" fill="#333" transform="rotate(-90 419.9 336.0)" stroke="#333" stroke-width="0.12">0</text>
<text x="419.9" y="313.88" font-size="4.6" text-anchor="middle" fill="#333" transform="rotate(-90 419.9 313.88)" stroke="#333" stroke-width="0.12">40</text>
<text x="419.9" y="291.76" font-size="4.6" text-anchor="middle" fill="#333" transform="rotate(-90 419.9 291.76)" stroke="#333" stroke-width="0.12">80</text>
<text x="419.9" y="269.64" font-size="4.6" text-anchor="middle" fill="#333" transform="rotate(-90 419.9 269.64)" stroke="#333" stroke-width="0.12">120</text>
<text x="419.9" y="247.52" font-size="4.6" text-anchor="middle" fill="#333" transform="rotate(-90 419.9 247.52)" stroke="#333" stroke-width="0.12">160</text>
<text x="419.9" y="225.4" font-size="4.6" text-anchor="middle" fill="#333" transform="rotate(-90 419.9 225.4)" stroke="#333" stroke-width="0.12">200</text>
<line x1="422.5" y1="336.0" x2="422.5" y2="337.8" stroke="#555" stroke-width="0.6"/>
<line x1="429.63441089723636" y1="336.0" x2="429.63441089723636" y2="337.0" stroke="#555" stroke-width="0.5"/>
<line x1="433.807773736856" y1="336.0" x2="433.807773736856" y2="337.0" stroke="#555" stroke-width="0.5"/>
<line x1="436.76882179447273" y1="336.0" x2="436.76882179447273" y2="337.0" stroke="#555" stroke-width="0.5"/>
<line x1="439.0655891027636" y1="336.0" x2="439.0655891027636" y2="337.0" stroke="#555" stroke-width="0.5"/>
<line x1="440.94218463409237" y1="336.0" x2="440.94218463409237" y2="337.0" stroke="#555" stroke-width="0.5"/>
<line x1="442.52882354833787" y1="336.0" x2="442.52882354833787" y2="337.0" stroke="#555" stroke-width="0.5"/>
<line x1="443.90323269170904" y1="336.0" x2="443.90323269170904" y2="337.0" stroke="#555" stroke-width="0.5"/>
<line x1="445.115547473712" y1="336.0" x2="445.115547473712" y2="337.0" stroke="#555" stroke-width="0.5"/>
<text x="419.7" y="344.2" font-size="5.6" text-anchor="start" fill="#333" textLength="4.3" lengthAdjust="spacingAndGlyphs" stroke="#333" stroke-width="0.15">10</text>
<text x="424.1" y="341.4" font-size="3.8" text-anchor="start" fill="#333" stroke="#333" stroke-width="0.1">0</text>
<line x1="446.2" y1="336.0" x2="446.2" y2="337.8" stroke="#555" stroke-width="0.6"/>
<line x1="453.33441089723635" y1="336.0" x2="453.33441089723635" y2="337.0" stroke="#555" stroke-width="0.5"/>
<line x1="457.507773736856" y1="336.0" x2="457.507773736856" y2="337.0" stroke="#555" stroke-width="0.5"/>
<line x1="460.4688217944727" y1="336.0" x2="460.4688217944727" y2="337.0" stroke="#555" stroke-width="0.5"/>
<line x1="462.7655891027636" y1="336.0" x2="462.7655891027636" y2="337.0" stroke="#555" stroke-width="0.5"/>
<line x1="464.64218463409236" y1="336.0" x2="464.64218463409236" y2="337.0" stroke="#555" stroke-width="0.5"/>
<line x1="466.22882354833786" y1="336.0" x2="466.22882354833786" y2="337.0" stroke="#555" stroke-width="0.5"/>
<line x1="467.603232691709" y1="336.0" x2="467.603232691709" y2="337.0" stroke="#555" stroke-width="0.5"/>
<line x1="468.815547473712" y1="336.0" x2="468.815547473712" y2="337.0" stroke="#555" stroke-width="0.5"/>
<text x="443.4" y="344.2" font-size="5.6" text-anchor="start" fill="#333" textLength="4.3" lengthAdjust="spacingAndGlyphs" stroke="#333" stroke-width="0.15">10</text>
<text x="447.8" y="341.4" font-size="3.8" text-anchor="start" fill="#333" stroke="#333" stroke-width="0.1">1</text>
<line x1="469.9" y1="336.0" x2="469.9" y2="337.8" stroke="#555" stroke-width="0.6"/>
<line x1="477.03441089723634" y1="336.0" x2="477.03441089723634" y2="337.0" stroke="#555" stroke-width="0.5"/>
<line x1="481.207773736856" y1="336.0" x2="481.207773736856" y2="337.0" stroke="#555" stroke-width="0.5"/>
<line x1="484.1688217944727" y1="336.0" x2="484.1688217944727" y2="337.0" stroke="#555" stroke-width="0.5"/>
<line x1="486.4655891027636" y1="336.0" x2="486.4655891027636" y2="337.0" stroke="#555" stroke-width="0.5"/>
<line x1="488.34218463409235" y1="336.0" x2="488.34218463409235" y2="337.0" stroke="#555" stroke-width="0.5"/>
<line x1="489.92882354833785" y1="336.0" x2="489.92882354833785" y2="337.0" stroke="#555" stroke-width="0.5"/>
<line x1="491.303232691709" y1="336.0" x2="491.303232691709" y2="337.0" stroke="#555" stroke-width="0.5"/>
<line x1="492.515547473712" y1="336.0" x2="492.515547473712" y2="337.0" stroke="#555" stroke-width="0.5"/>
<text x="467.09999999999997" y="344.2" font-size="5.6" text-anchor="start" fill="#333" textLength="4.3" lengthAdjust="spacingAndGlyphs" stroke="#333" stroke-width="0.15">10</text>
<text x="471.5" y="341.4" font-size="3.8" text-anchor="start" fill="#333" stroke="#333" stroke-width="0.1">2</text>
<line x1="493.59999999999997" y1="336.0" x2="493.59999999999997" y2="337.8" stroke="#555" stroke-width="0.6"/>
<line x1="500.73441089723633" y1="336.0" x2="500.73441089723633" y2="337.0" stroke="#555" stroke-width="0.5"/>
<line x1="504.907773736856" y1="336.0" x2="504.907773736856" y2="337.0" stroke="#555" stroke-width="0.5"/>
<line x1="507.8688217944727" y1="336.0" x2="507.8688217944727" y2="337.0" stroke="#555" stroke-width="0.5"/>
<line x1="510.1655891027636" y1="336.0" x2="510.1655891027636" y2="337.0" stroke="#555" stroke-width="0.5"/>
<line x1="512.0421846340923" y1="336.0" x2="512.0421846340923" y2="337.0" stroke="#555" stroke-width="0.5"/>
<line x1="513.6288235483379" y1="336.0" x2="513.6288235483379" y2="337.0" stroke="#555" stroke-width="0.5"/>
<line x1="515.0032326917091" y1="336.0" x2="515.0032326917091" y2="337.0" stroke="#555" stroke-width="0.5"/>
<line x1="516.2155474737119" y1="336.0" x2="516.2155474737119" y2="337.0" stroke="#555" stroke-width="0.5"/>
<text x="490.79999999999995" y="344.2" font-size="5.6" text-anchor="start" fill="#333" textLength="4.3" lengthAdjust="spacingAndGlyphs" stroke="#333" stroke-width="0.15">10</text>
<text x="495.2" y="341.4" font-size="3.8" text-anchor="start" fill="#333" stroke="#333" stroke-width="0.1">3</text>
<line x1="517.3" y1="336.0" x2="517.3" y2="337.8" stroke="#555" stroke-width="0.6"/>
<text x="514.5" y="344.2" font-size="5.6" text-anchor="start" fill="#333" textLength="4.3" lengthAdjust="spacingAndGlyphs" stroke="#333" stroke-width="0.15">10</text>
<text x="518.9" y="341.4" font-size="3.8" text-anchor="start" fill="#333" stroke="#333" stroke-width="0.1">4</text>
<polyline points="422.8,336.0 423.4,321.9 424.0,328.0 424.6,331.1 425.2,332.0 425.8,330.8 426.4,329.1 427.0,326.2 427.6,323.1 428.2,319.2 428.8,314.1 429.4,307.5 430.0,300.1 430.6,292.5 431.2,283.9 431.8,274.0 432.4,264.6 433.0,256.7 433.6,249.5 434.2,245.2 434.8,242.2 435.4,240.1 436.0,234.9 436.6,241.4 437.2,246.5 437.8,257.0 438.4,269.7 439.0,280.9 439.6,288.8 440.2,296.6 440.8,303.8 441.4,310.0 442.0,316.2 442.6,321.3 443.2,324.8 443.8,327.3 444.4,329.0 445.0,330.6 445.6,331.9 446.2,333.0 446.8,333.9 447.4,334.3 448.0,334.6 448.6,334.4 449.2,335.0 449.8,334.9 450.4,335.0 451.0,335.1 451.6,335.2 452.2,335.1 452.8,335.2 453.4,335.4 454.0,335.5 454.6,335.7 455.2,335.3 455.8,335.7 456.4,335.7 457.0,335.7 457.6,335.9 458.2,335.4 458.8,335.8 459.4,335.9 460.0,335.5 460.6,335.8 461.2,336.0 461.8,335.6 462.4,335.9 463.0,336.0 463.6,335.7 464.2,335.5 464.8,335.6 465.4,335.9 466.0,335.7 466.6,335.6 467.2,335.7 467.8,336.0 468.4,335.6 469.0,335.5 469.6,336.0 470.2,335.6 470.8,335.7 471.4,336.0 472.0,335.6 472.6,335.5 473.2,336.0 473.8,335.6 474.4,335.6 475.0,336.0 475.6,335.6 476.2,336.0 476.8,335.7 477.4,335.7 478.0,335.6 478.6,335.8 479.2,335.8 479.8,335.7 480.4,335.8 481.0,335.7 481.6,336.0 482.2,336.0 482.8,335.9 483.4,336.0 484.0,335.5 484.6,335.6 485.2,335.6 485.8,335.6 486.4,336.0 487.0,336.0 487.6,336.0 488.2,335.8 488.8,335.6 489.4,335.8 490.0,335.5 490.6,336.0 491.2,335.7 491.8,335.7 492.4,336.0 493.0,335.6 493.6,336.0 494.2,335.7 494.8,335.9 495.4,335.6 496.0,336.0 496.6,335.7 497.2,335.7 497.8,335.9 498.4,335.9 499.0,335.6 499.6,335.6 500.2,335.8 500.8,335.5 501.4,336.0 502.0,335.7 502.6,335.6 503.2,335.7 503.8,335.6 504.4,335.7 505.0,335.8 505.6,335.7 506.2,335.7 506.8,335.7 507.4,335.8 508.0,336.0 508.6,335.8 509.2,336.0 509.8,335.8 510.4,335.6 511.0,335.6 511.6,336.0 512.2,335.8 512.8,335.7 513.4,335.8 514.0,336.0 514.6,335.7 515.2,335.7 515.8,335.7 516.4,335.5 517.0,335.8" fill="none" stroke="#1a1a1a" stroke-width="1.0" stroke-linejoin="round"/>
<polyline points="422.8,335.0 423.4,335.0 424.0,335.0 424.6,335.0 425.2,335.2 425.8,334.9 426.4,335.5 427.0,335.0 427.6,335.4 428.2,335.0 428.8,335.3 429.4,335.0 430.0,334.7 430.6,334.9 431.2,335.0 431.8,334.9 432.4,334.9 433.0,334.8 433.6,334.0 434.2,333.8 434.8,333.2 435.4,332.9 436.0,331.0 436.6,327.9 437.2,323.7 437.8,318.3 438.4,310.7 439.0,302.0 439.6,292.8 440.2,282.9 440.8,272.6 441.4,262.6 442.0,255.4 442.6,249.7 443.2,245.4 443.8,245.1 444.4,247.6 445.0,253.6 445.6,261.6 446.2,271.1 446.8,282.0 447.4,291.8 448.0,300.5 448.6,309.6 449.2,317.1 449.8,323.0 450.4,327.7 451.0,331.0 451.6,332.6 452.2,333.6 452.8,334.4 453.4,334.9 454.0,334.6 454.6,334.9 455.2,334.8 455.8,335.2 456.4,335.0 457.0,335.1 457.6,335.2 458.2,334.9 458.8,335.2 459.4,335.3 460.0,335.3 460.6,335.0 461.2,335.0 461.8,334.9 462.4,335.4 463.0,335.1 463.6,335.1 464.2,335.2 464.8,335.3 465.4,335.1 466.0,335.1 466.6,335.4 467.2,335.4 467.8,335.1 468.4,335.0 469.0,335.5 469.6,335.4 470.2,335.3 470.8,335.2 471.4,335.6 472.0,335.2 472.6,335.1 473.2,335.1 473.8,335.2 474.4,335.4 475.0,335.2 475.6,335.6 476.2,335.4 476.8,335.3 477.4,335.4 478.0,335.4 478.6,335.4 479.2,335.3 479.8,335.4 480.4,335.3 481.0,335.5 481.6,335.2 482.2,335.5 482.8,335.2 483.4,335.6 484.0,335.1 484.6,335.4 485.2,335.3 485.8,335.5 486.4,335.2 487.0,335.2 487.6,335.2 488.2,335.4 488.8,335.4 489.4,335.1 490.0,335.2 490.6,335.2 491.2,335.7 491.8,335.4 492.4,335.4 493.0,335.3 493.6,335.5 494.2,335.6 494.8,335.5 495.4,335.1 496.0,335.3 496.6,335.4 497.2,335.1 497.8,335.6 498.4,335.3 499.0,335.3 499.6,335.5 500.2,335.4 500.8,335.4 501.4,335.6 502.0,335.4 502.6,335.3 503.2,335.1 503.8,335.4 504.4,335.3 505.0,335.4 505.6,335.3 506.2,335.1 506.8,335.1 507.4,335.2 508.0,335.1 508.6,335.6 509.2,335.4 509.8,335.2 510.4,335.5 511.0,335.5 511.6,335.1 512.2,335.5 512.8,335.2 513.4,335.7 514.0,335.2 514.6,335.3 515.2,335.2 515.8,335.6 516.4,335.6 517.0,335.4" fill="none" stroke="#cc2433" stroke-width="1.3" stroke-linejoin="round"/>
<text x="440.5" y="238.5" font-size="8.9" text-anchor="start" fill="#000" textLength="25.9" lengthAdjust="spacingAndGlyphs" stroke="#000" stroke-width="0.35">control</text>
<text x="490.3" y="239" font-size="9.4" text-anchor="start" fill="#000" font-weight="bold" textLength="20.5" lengthAdjust="spacingAndGlyphs" stroke="#000" stroke-width="0.22">ATG</text>
<text x="452.7" y="291.3" font-size="9.0" text-anchor="start" fill="#cc2433" textLength="19.4" lengthAdjust="spacingAndGlyphs" stroke="#cc2433" stroke-width="0.35">αPDI</text>
<text x="409.4" y="301.7" font-size="9.6" text-anchor="start" fill="#000" textLength="42.5" lengthAdjust="spacingAndGlyphs" transform="rotate(-90 409.4 301.7)" stroke="#000" stroke-width="0.22">Cell count</text>
<text x="419.9" y="356.5" font-size="9.6" text-anchor="start" fill="#000" textLength="100" lengthAdjust="spacingAndGlyphs" stroke="#000" stroke-width="0.22">PDI antigen expression</text>
<text x="1.7" y="375.7" font-size="11.6" text-anchor="start" fill="#000" font-weight="bold" textLength="6.4" lengthAdjust="spacingAndGlyphs" stroke="#000" stroke-width="0.22">F</text>
<line x1="64.3" y1="379.6" x2="64.3" y2="515.9" stroke="#000" stroke-width="1.1"/>
<line x1="60.5" y1="515.4" x2="64.3" y2="515.4" stroke="#000" stroke-width="1.1"/>
<text x="56.2" y="518.4" font-size="9.8" text-anchor="end" fill="#000" stroke="#000" stroke-width="0.22">0</text>
<line x1="60.5" y1="470.13" x2="64.3" y2="470.13" stroke="#000" stroke-width="1.1"/>
<text x="56.2" y="473.13" font-size="9.8" text-anchor="end" fill="#000" stroke="#000" stroke-width="0.22">10000</text>
<line x1="60.5" y1="424.85999999999996" x2="64.3" y2="424.85999999999996" stroke="#000" stroke-width="1.1"/>
<text x="56.2" y="427.85999999999996" font-size="9.8" text-anchor="end" fill="#000" stroke="#000" stroke-width="0.22">20000</text>
<line x1="60.5" y1="379.59" x2="64.3" y2="379.59" stroke="#000" stroke-width="1.1"/>
<text x="56.2" y="382.59" font-size="9.8" text-anchor="end" fill="#000" stroke="#000" stroke-width="0.22">30000</text>
<line x1="63.8" y1="515.4" x2="219.6" y2="515.4" stroke="#000" stroke-width="1.1"/>
<line x1="64.3" y1="515.4" x2="64.3" y2="518.0" stroke="#000" stroke-width="1.1"/>
<line x1="95.6" y1="515.4" x2="95.6" y2="518.0" stroke="#000" stroke-width="1.1"/>
<line x1="126.4" y1="515.4" x2="126.4" y2="518.0" stroke="#000" stroke-width="1.1"/>
<line x1="157.2" y1="515.4" x2="157.2" y2="518.0" stroke="#000" stroke-width="1.1"/>
<line x1="188.4" y1="515.4" x2="188.4" y2="518.0" stroke="#000" stroke-width="1.1"/>
<line x1="219.2" y1="515.4" x2="219.2" y2="518.0" stroke="#000" stroke-width="1.1"/>
<line x1="79.85" y1="502.8" x2="79.85" y2="501.3" stroke="#000" stroke-width="1.1"/>
<line x1="77.64999999999999" y1="501.3" x2="82.05" y2="501.3" stroke="#000" stroke-width="1.1"/>
<rect x="71.8" y="502.8" width="16.10000000000001" height="12.599999999999966" fill="#fff" stroke="#000" stroke-width="1.1"/>
<line x1="110.9" y1="417.7" x2="110.9" y2="395.6" stroke="#000" stroke-width="1.1"/>
<line x1="108.7" y1="395.6" x2="113.10000000000001" y2="395.6" stroke="#000" stroke-width="1.1"/>
<rect x="102" y="417.7" width="17.799999999999997" height="97.69999999999999" fill="#000" stroke="none" stroke-width="1"/>
<line x1="141.65" y1="491.6" x2="141.65" y2="480.1" stroke="#000" stroke-width="1.1"/>
<line x1="139.45000000000002" y1="480.1" x2="143.85" y2="480.1" stroke="#000" stroke-width="1.1"/>
<rect x="132.3" y="491.6" width="18.69999999999999" height="23.799999999999955" fill="#000" stroke="none" stroke-width="1"/>
<line x1="173.2" y1="420.2" x2="173.2" y2="399.6" stroke="#000" stroke-width="1.1"/>
<line x1="171.0" y1="399.6" x2="175.39999999999998" y2="399.6" stroke="#000" stroke-width="1.1"/>
<rect x="164.2" y="420.2" width="18.0" height="95.19999999999999" fill="#000" stroke="none" stroke-width="1"/>
<line x1="204.14999999999998" y1="475.7" x2="204.14999999999998" y2="453.7" stroke="#000" stroke-width="1.1"/>
<line x1="201.95" y1="453.7" x2="206.34999999999997" y2="453.7" stroke="#000" stroke-width="1.1"/>
<rect x="195.2" y="475.7" width="17.900000000000006" height="39.69999999999999" fill="#000" stroke="none" stroke-width="1"/>
<text x="113.7" y="388.0" font-size="8.6" text-anchor="start" fill="#000" textLength="25.0" lengthAdjust="spacingAndGlyphs" stroke="#000" stroke-width="0.22">P&lt;0.05</text>
<line x1="110.9" y1="390.4" x2="143.1" y2="390.4" stroke="#000" stroke-width="1.1"/>
<rect x="181.9" y="381.4" width="11.3" height="6.9" fill="#fff" stroke="#000" stroke-width="0.9"/>
<rect x="181.4" y="392.2" width="12.2" height="8.1" fill="#000" stroke="none" stroke-width="1"/>
<text x="196.2" y="388.4" font-size="9.2" text-anchor="start" fill="#000" textLength="28.3" lengthAdjust="spacingAndGlyphs" stroke="#000" stroke-width="0.22">Control</text>
<text x="196.2" y="399.3" font-size="9.2" text-anchor="start" fill="#000" textLength="21.6" lengthAdjust="spacingAndGlyphs" stroke="#000" stroke-width="0.22">THP1</text>
<text x="22.4" y="504.5" font-size="9.8" text-anchor="start" fill="#000" textLength="113" lengthAdjust="spacingAndGlyphs" transform="rotate(-90 22.4 504.5)" stroke="#000" stroke-width="0.22">PDI activity (FU/10<tspan font-size="6.2" dy="-3.6">5</tspan><tspan dy="3.6"> cells)</tspan></text>
<text x="76.3" y="523.2" font-size="9.8" text-anchor="start" fill="#000" textLength="19.5" lengthAdjust="spacingAndGlyphs" transform="rotate(90 76.3 523.2)" stroke="#000" stroke-width="0.22">PBS</text>
<text x="106.8" y="523.2" font-size="9.8" text-anchor="start" fill="#000" textLength="15" lengthAdjust="spacingAndGlyphs" transform="rotate(90 106.8 523.2)" stroke="#000" stroke-width="0.22">IgG</text>
<text x="137.8" y="523.2" font-size="9.8" text-anchor="start" fill="#000" textLength="18.5" lengthAdjust="spacingAndGlyphs" transform="rotate(90 137.8 523.2)" stroke="#000" stroke-width="0.22">ATG</text>
<text x="164.2" y="523.2" font-size="9.8" text-anchor="start" fill="#000" textLength="18" lengthAdjust="spacingAndGlyphs" transform="rotate(90 164.2 523.2)" stroke="#000" stroke-width="0.22">αC5</text>
<text x="175.5" y="523.2" font-size="9.8" text-anchor="start" fill="#000" textLength="28.5" lengthAdjust="spacingAndGlyphs" transform="rotate(90 175.5 523.2)" stroke="#000" stroke-width="0.22">ATG +</text>
<text x="195.2" y="523.2" font-size="9.8" text-anchor="start" fill="#000" textLength="18" lengthAdjust="spacingAndGlyphs" transform="rotate(90 195.2 523.2)" stroke="#000" stroke-width="0.22">αC7</text>
<text x="206.4" y="523.2" font-size="9.8" text-anchor="start" fill="#000" textLength="28.5" lengthAdjust="spacingAndGlyphs" transform="rotate(90 206.4 523.2)" stroke="#000" stroke-width="0.22">ATG +</text>
</svg></body></html>
